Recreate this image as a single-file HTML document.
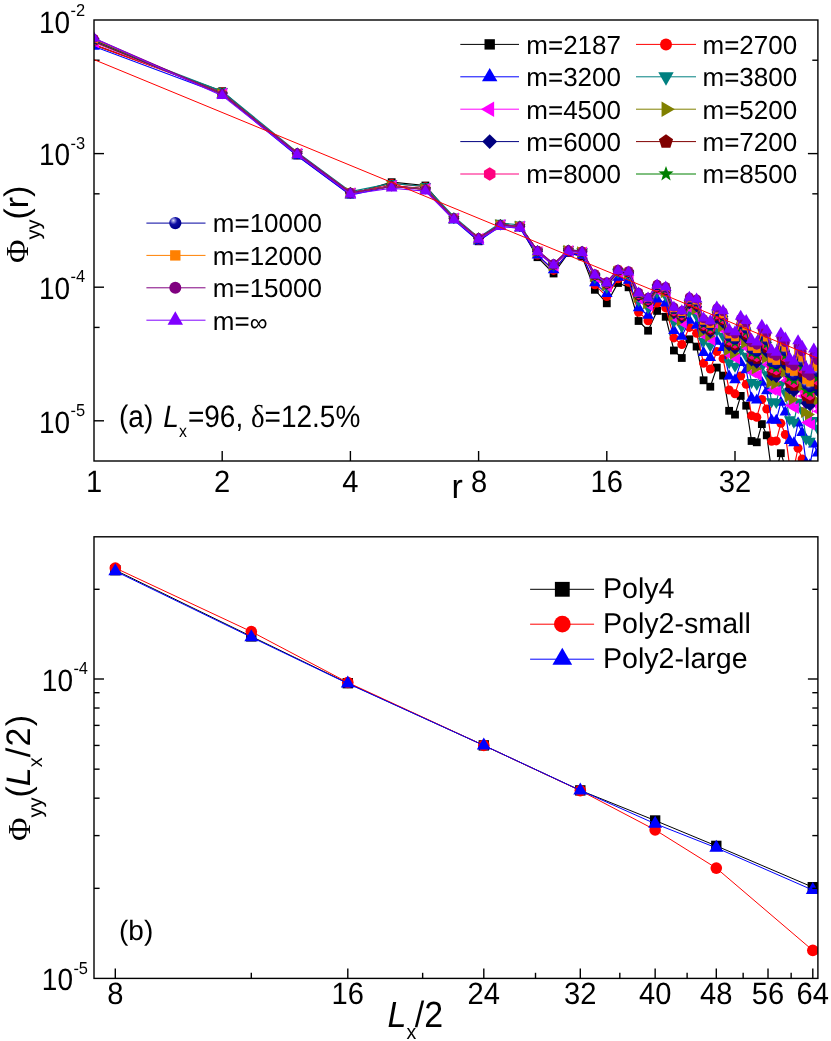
<!DOCTYPE html>
<html><head><meta charset="utf-8"><title>chart</title>
<style>html,body{margin:0;padding:0;background:#fff}svg{display:block;will-change:transform}text{font-family:"Liberation Sans", sans-serif;fill:#000;text-rendering:geometricPrecision}</style></head><body>
<svg width="831" height="1041" viewBox="0 0 831 1041">
<rect width="831" height="1041" fill="#fff"/>
<defs>
<clipPath id="ca"><rect x="94.00" y="20.00" width="723.90" height="441.00"/></clipPath>
<clipPath id="cb"><rect x="94" y="536.8" width="723.9" height="441.6"/></clipPath>
<radialGradient id="sph" cx="0.36" cy="0.32" r="0.62" fx="0.34" fy="0.28"><stop offset="0" stop-color="#e4e4f8"/><stop offset="0.16" stop-color="#9a9ae0"/><stop offset="0.5" stop-color="#1010a4"/><stop offset="1" stop-color="#00008c"/></radialGradient>
</defs>
<line x1="94.00" y1="153.60" x2="104.00" y2="153.60" stroke="#000" stroke-width="1.40"/>
<line x1="807.90" y1="153.60" x2="817.90" y2="153.60" stroke="#000" stroke-width="1.40"/>
<line x1="94.00" y1="287.20" x2="104.00" y2="287.20" stroke="#000" stroke-width="1.40"/>
<line x1="807.90" y1="287.20" x2="817.90" y2="287.20" stroke="#000" stroke-width="1.40"/>
<line x1="94.00" y1="420.80" x2="104.00" y2="420.80" stroke="#000" stroke-width="1.40"/>
<line x1="807.90" y1="420.80" x2="817.90" y2="420.80" stroke="#000" stroke-width="1.40"/>
<line x1="94.00" y1="60.22" x2="99.60" y2="60.22" stroke="#000" stroke-width="1.40"/>
<line x1="812.30" y1="60.22" x2="817.90" y2="60.22" stroke="#000" stroke-width="1.40"/>
<line x1="94.00" y1="193.82" x2="99.60" y2="193.82" stroke="#000" stroke-width="1.40"/>
<line x1="812.30" y1="193.82" x2="817.90" y2="193.82" stroke="#000" stroke-width="1.40"/>
<line x1="94.00" y1="327.42" x2="99.60" y2="327.42" stroke="#000" stroke-width="1.40"/>
<line x1="812.30" y1="327.42" x2="817.90" y2="327.42" stroke="#000" stroke-width="1.40"/>
<line x1="222.20" y1="451.00" x2="222.20" y2="461.00" stroke="#000" stroke-width="1.40"/>
<line x1="350.40" y1="451.00" x2="350.40" y2="461.00" stroke="#000" stroke-width="1.40"/>
<line x1="478.60" y1="451.00" x2="478.60" y2="461.00" stroke="#000" stroke-width="1.40"/>
<line x1="606.80" y1="451.00" x2="606.80" y2="461.00" stroke="#000" stroke-width="1.40"/>
<line x1="735.00" y1="451.00" x2="735.00" y2="461.00" stroke="#000" stroke-width="1.40"/>
<g clip-path="url(#ca)">
<polyline fill="none" stroke="#000000" stroke-width="1.15" points="94.00,44.80 222.20,91.20 297.19,155.50 350.40,194.50 391.67,182.20 425.39,185.50 453.90,218.90 478.60,241.30 500.38,224.20 519.87,227.00 537.50,257.20 553.59,273.50 568.40,253.00 582.10,256.50 594.86,289.80 606.80,303.30 618.01,283.00 628.58,287.30 638.58,321.00 648.07,330.70 657.10,310.90 665.70,316.80 673.92,350.50 681.79,358.00 689.34,339.30 696.60,346.60 703.58,380.30 710.30,386.70 716.79,367.60 723.06,375.60 729.13,410.80 735.00,414.60 740.69,395.90 746.21,405.70 751.57,441.00 756.78,442.30 761.85,424.10 766.78,435.30 771.59,471.70 776.27,470.30 780.84,453.20 785.30,466.50 789.65,501.60 793.90,503.20 798.06,483.80 802.12,496.30 806.10,533.70 809.99,535.00 813.81,514.50 817.54,526.50"/>
<rect x="90.10" y="40.90" width="7.80" height="7.80" fill="#000000"/>
<rect x="218.30" y="87.30" width="7.80" height="7.80" fill="#000000"/>
<rect x="293.29" y="151.60" width="7.80" height="7.80" fill="#000000"/>
<rect x="346.50" y="190.60" width="7.80" height="7.80" fill="#000000"/>
<rect x="387.77" y="178.30" width="7.80" height="7.80" fill="#000000"/>
<rect x="421.49" y="181.60" width="7.80" height="7.80" fill="#000000"/>
<rect x="450.00" y="215.00" width="7.80" height="7.80" fill="#000000"/>
<rect x="474.70" y="237.40" width="7.80" height="7.80" fill="#000000"/>
<rect x="496.48" y="220.30" width="7.80" height="7.80" fill="#000000"/>
<rect x="515.97" y="223.10" width="7.80" height="7.80" fill="#000000"/>
<rect x="533.60" y="253.30" width="7.80" height="7.80" fill="#000000"/>
<rect x="549.69" y="269.60" width="7.80" height="7.80" fill="#000000"/>
<rect x="564.50" y="249.10" width="7.80" height="7.80" fill="#000000"/>
<rect x="578.20" y="252.60" width="7.80" height="7.80" fill="#000000"/>
<rect x="590.96" y="285.90" width="7.80" height="7.80" fill="#000000"/>
<rect x="602.90" y="299.40" width="7.80" height="7.80" fill="#000000"/>
<rect x="614.11" y="279.10" width="7.80" height="7.80" fill="#000000"/>
<rect x="624.68" y="283.40" width="7.80" height="7.80" fill="#000000"/>
<rect x="634.68" y="317.10" width="7.80" height="7.80" fill="#000000"/>
<rect x="644.17" y="326.80" width="7.80" height="7.80" fill="#000000"/>
<rect x="653.20" y="307.00" width="7.80" height="7.80" fill="#000000"/>
<rect x="661.80" y="312.90" width="7.80" height="7.80" fill="#000000"/>
<rect x="670.02" y="346.60" width="7.80" height="7.80" fill="#000000"/>
<rect x="677.89" y="354.10" width="7.80" height="7.80" fill="#000000"/>
<rect x="685.44" y="335.40" width="7.80" height="7.80" fill="#000000"/>
<rect x="692.70" y="342.70" width="7.80" height="7.80" fill="#000000"/>
<rect x="699.68" y="376.40" width="7.80" height="7.80" fill="#000000"/>
<rect x="706.40" y="382.80" width="7.80" height="7.80" fill="#000000"/>
<rect x="712.89" y="363.70" width="7.80" height="7.80" fill="#000000"/>
<rect x="719.16" y="371.70" width="7.80" height="7.80" fill="#000000"/>
<rect x="725.23" y="406.90" width="7.80" height="7.80" fill="#000000"/>
<rect x="731.10" y="410.70" width="7.80" height="7.80" fill="#000000"/>
<rect x="736.79" y="392.00" width="7.80" height="7.80" fill="#000000"/>
<rect x="742.31" y="401.80" width="7.80" height="7.80" fill="#000000"/>
<rect x="747.67" y="437.10" width="7.80" height="7.80" fill="#000000"/>
<rect x="752.88" y="438.40" width="7.80" height="7.80" fill="#000000"/>
<rect x="757.95" y="420.20" width="7.80" height="7.80" fill="#000000"/>
<rect x="762.88" y="431.40" width="7.80" height="7.80" fill="#000000"/>
<rect x="776.94" y="449.30" width="7.80" height="7.80" fill="#000000"/>
<rect x="781.40" y="462.60" width="7.80" height="7.80" fill="#000000"/>
<polyline fill="none" stroke="#ff0000" stroke-width="1.15" points="94.00,44.80 222.20,92.06 297.19,154.73 350.40,193.89 391.67,183.55 425.39,186.73 453.90,218.65 478.60,240.22 500.38,224.45 519.87,226.75 537.50,255.05 553.59,270.43 568.40,252.08 582.10,254.81 594.86,284.79 606.80,296.57 618.01,278.75 628.58,282.23 638.58,312.26 648.07,320.70 657.10,303.02 665.70,307.91 673.92,337.94 681.79,344.47 689.34,327.38 696.60,333.34 703.58,363.35 710.30,369.03 716.79,351.59 723.06,358.69 729.13,390.05 735.00,393.84 740.69,375.95 746.21,384.37 751.57,415.66 756.78,417.26 761.85,399.43 766.78,409.03 771.59,441.32 776.27,440.90 780.84,423.31 785.30,434.52 789.65,465.93 793.90,467.90 798.06,448.25 802.12,459.03 806.10,492.37 809.99,494.04 813.81,473.42 817.54,483.70"/>
<circle cx="94.00" cy="44.80" r="4.50" fill="#ff0000"/>
<circle cx="222.20" cy="92.06" r="4.50" fill="#ff0000"/>
<circle cx="297.19" cy="154.73" r="4.50" fill="#ff0000"/>
<circle cx="350.40" cy="193.89" r="4.50" fill="#ff0000"/>
<circle cx="391.67" cy="183.55" r="4.50" fill="#ff0000"/>
<circle cx="425.39" cy="186.73" r="4.50" fill="#ff0000"/>
<circle cx="453.90" cy="218.65" r="4.50" fill="#ff0000"/>
<circle cx="478.60" cy="240.22" r="4.50" fill="#ff0000"/>
<circle cx="500.38" cy="224.45" r="4.50" fill="#ff0000"/>
<circle cx="519.87" cy="226.75" r="4.50" fill="#ff0000"/>
<circle cx="537.50" cy="255.05" r="4.50" fill="#ff0000"/>
<circle cx="553.59" cy="270.43" r="4.50" fill="#ff0000"/>
<circle cx="568.40" cy="252.08" r="4.50" fill="#ff0000"/>
<circle cx="582.10" cy="254.81" r="4.50" fill="#ff0000"/>
<circle cx="594.86" cy="284.79" r="4.50" fill="#ff0000"/>
<circle cx="606.80" cy="296.57" r="4.50" fill="#ff0000"/>
<circle cx="618.01" cy="278.75" r="4.50" fill="#ff0000"/>
<circle cx="628.58" cy="282.23" r="4.50" fill="#ff0000"/>
<circle cx="638.58" cy="312.26" r="4.50" fill="#ff0000"/>
<circle cx="648.07" cy="320.70" r="4.50" fill="#ff0000"/>
<circle cx="657.10" cy="303.02" r="4.50" fill="#ff0000"/>
<circle cx="665.70" cy="307.91" r="4.50" fill="#ff0000"/>
<circle cx="673.92" cy="337.94" r="4.50" fill="#ff0000"/>
<circle cx="681.79" cy="344.47" r="4.50" fill="#ff0000"/>
<circle cx="689.34" cy="327.38" r="4.50" fill="#ff0000"/>
<circle cx="696.60" cy="333.34" r="4.50" fill="#ff0000"/>
<circle cx="703.58" cy="363.35" r="4.50" fill="#ff0000"/>
<circle cx="710.30" cy="369.03" r="4.50" fill="#ff0000"/>
<circle cx="716.79" cy="351.59" r="4.50" fill="#ff0000"/>
<circle cx="723.06" cy="358.69" r="4.50" fill="#ff0000"/>
<circle cx="729.13" cy="390.05" r="4.50" fill="#ff0000"/>
<circle cx="735.00" cy="393.84" r="4.50" fill="#ff0000"/>
<circle cx="740.69" cy="375.95" r="4.50" fill="#ff0000"/>
<circle cx="746.21" cy="384.37" r="4.50" fill="#ff0000"/>
<circle cx="751.57" cy="415.66" r="4.50" fill="#ff0000"/>
<circle cx="756.78" cy="417.26" r="4.50" fill="#ff0000"/>
<circle cx="761.85" cy="399.43" r="4.50" fill="#ff0000"/>
<circle cx="766.78" cy="409.03" r="4.50" fill="#ff0000"/>
<circle cx="771.59" cy="441.32" r="4.50" fill="#ff0000"/>
<circle cx="776.27" cy="440.90" r="4.50" fill="#ff0000"/>
<circle cx="780.84" cy="423.31" r="4.50" fill="#ff0000"/>
<circle cx="785.30" cy="434.52" r="4.50" fill="#ff0000"/>
<circle cx="789.65" cy="465.93" r="4.50" fill="#ff0000"/>
<circle cx="793.90" cy="467.90" r="4.50" fill="#ff0000"/>
<circle cx="798.06" cy="448.25" r="4.50" fill="#ff0000"/>
<circle cx="802.12" cy="459.03" r="4.50" fill="#ff0000"/>
<polyline fill="none" stroke="#0000ff" stroke-width="1.15" points="94.00,46.47 222.20,94.32 297.19,155.87 350.40,195.13 391.67,186.15 425.39,189.24 453.90,220.15 478.60,241.15 500.38,226.28 519.87,228.25 537.50,255.23 553.59,269.97 568.40,253.11 582.10,255.31 594.86,283.00 606.80,293.59 618.01,277.46 628.58,280.36 638.58,307.80 648.07,315.31 657.10,299.09 665.70,303.24 673.92,330.59 681.79,336.38 689.34,320.41 696.60,325.34 703.58,352.60 710.30,357.68 716.79,341.40 723.06,347.77 729.13,376.20 735.00,379.89 740.69,362.61 746.21,370.00 751.57,398.27 756.78,400.09 761.85,382.54 766.78,390.94 771.59,420.14 776.27,420.46 780.84,402.50 785.30,412.14 789.65,440.77 793.90,443.02 798.06,423.19 802.12,432.67 806.10,462.96 809.99,464.91 813.81,444.19 817.54,453.17"/>
<polygon points="94.00,39.80 99.80,49.80 88.20,49.80" fill="#0000ff"/>
<polygon points="222.20,87.65 228.00,97.65 216.40,97.65" fill="#0000ff"/>
<polygon points="297.19,149.20 302.99,159.20 291.39,159.20" fill="#0000ff"/>
<polygon points="350.40,188.46 356.20,198.46 344.60,198.46" fill="#0000ff"/>
<polygon points="391.67,179.49 397.47,189.49 385.87,189.49" fill="#0000ff"/>
<polygon points="425.39,182.58 431.19,192.58 419.59,192.58" fill="#0000ff"/>
<polygon points="453.90,213.48 459.70,223.48 448.10,223.48" fill="#0000ff"/>
<polygon points="478.60,234.48 484.40,244.48 472.80,244.48" fill="#0000ff"/>
<polygon points="500.38,219.62 506.18,229.62 494.58,229.62" fill="#0000ff"/>
<polygon points="519.87,221.58 525.67,231.58 514.07,231.58" fill="#0000ff"/>
<polygon points="537.50,248.56 543.30,258.56 531.70,258.56" fill="#0000ff"/>
<polygon points="553.59,263.30 559.39,273.30 547.79,273.30" fill="#0000ff"/>
<polygon points="568.40,246.44 574.20,256.44 562.60,256.44" fill="#0000ff"/>
<polygon points="582.10,248.64 587.90,258.64 576.30,258.64" fill="#0000ff"/>
<polygon points="594.86,276.33 600.66,286.33 589.06,286.33" fill="#0000ff"/>
<polygon points="606.80,286.92 612.60,296.92 601.00,296.92" fill="#0000ff"/>
<polygon points="618.01,270.80 623.81,280.80 612.21,280.80" fill="#0000ff"/>
<polygon points="628.58,273.69 634.38,283.69 622.78,283.69" fill="#0000ff"/>
<polygon points="638.58,301.13 644.38,311.13 632.78,311.13" fill="#0000ff"/>
<polygon points="648.07,308.64 653.87,318.64 642.27,318.64" fill="#0000ff"/>
<polygon points="657.10,292.43 662.90,302.43 651.30,302.43" fill="#0000ff"/>
<polygon points="665.70,296.57 671.50,306.57 659.90,306.57" fill="#0000ff"/>
<polygon points="673.92,323.93 679.72,333.93 668.12,333.93" fill="#0000ff"/>
<polygon points="681.79,329.72 687.59,339.72 675.99,339.72" fill="#0000ff"/>
<polygon points="689.34,313.74 695.14,323.74 683.54,323.74" fill="#0000ff"/>
<polygon points="696.60,318.67 702.40,328.67 690.80,328.67" fill="#0000ff"/>
<polygon points="703.58,345.93 709.38,355.93 697.78,355.93" fill="#0000ff"/>
<polygon points="710.30,351.02 716.10,361.02 704.50,361.02" fill="#0000ff"/>
<polygon points="716.79,334.73 722.59,344.73 710.99,344.73" fill="#0000ff"/>
<polygon points="723.06,341.10 728.86,351.10 717.26,351.10" fill="#0000ff"/>
<polygon points="729.13,369.53 734.93,379.53 723.33,379.53" fill="#0000ff"/>
<polygon points="735.00,373.22 740.80,383.22 729.20,383.22" fill="#0000ff"/>
<polygon points="740.69,355.95 746.49,365.95 734.89,365.95" fill="#0000ff"/>
<polygon points="746.21,363.33 752.01,373.33 740.41,373.33" fill="#0000ff"/>
<polygon points="751.57,391.61 757.37,401.61 745.77,401.61" fill="#0000ff"/>
<polygon points="756.78,393.42 762.58,403.42 750.98,403.42" fill="#0000ff"/>
<polygon points="761.85,375.87 767.65,385.87 756.05,385.87" fill="#0000ff"/>
<polygon points="766.78,384.27 772.58,394.27 760.98,394.27" fill="#0000ff"/>
<polygon points="771.59,413.47 777.39,423.47 765.79,423.47" fill="#0000ff"/>
<polygon points="776.27,413.80 782.07,423.80 770.47,423.80" fill="#0000ff"/>
<polygon points="780.84,395.83 786.64,405.83 775.04,405.83" fill="#0000ff"/>
<polygon points="785.30,405.47 791.10,415.47 779.50,415.47" fill="#0000ff"/>
<polygon points="789.65,434.11 795.45,444.11 783.85,444.11" fill="#0000ff"/>
<polygon points="793.90,436.35 799.70,446.35 788.10,446.35" fill="#0000ff"/>
<polygon points="798.06,416.52 803.86,426.52 792.26,426.52" fill="#0000ff"/>
<polygon points="802.12,426.00 807.92,436.00 796.32,436.00" fill="#0000ff"/>
<polygon points="806.10,456.29 811.90,466.29 800.30,466.29" fill="#0000ff"/>
<polygon points="809.99,458.24 815.79,468.24 804.19,468.24" fill="#0000ff"/>
<polygon points="813.81,437.52 819.61,447.52 808.01,447.52" fill="#0000ff"/>
<polygon points="817.54,446.51 823.34,456.51 811.74,456.51" fill="#0000ff"/>
<polyline fill="none" stroke="#008080" stroke-width="1.15" points="94.00,42.00 222.20,91.35 297.19,152.21 350.40,191.53 391.67,183.39 425.39,186.43 453.90,216.71 478.60,237.36 500.38,223.05 519.87,224.81 537.50,250.98 553.59,265.33 568.40,249.38 582.10,251.26 594.86,277.54 606.80,287.40 618.01,272.31 628.58,274.83 638.58,300.64 648.07,307.55 657.10,292.24 665.70,295.89 673.92,321.53 681.79,326.82 689.34,311.52 696.60,315.77 703.58,341.21 710.30,345.87 716.79,330.30 723.06,336.15 729.13,362.60 735.00,366.18 740.69,349.30 746.21,356.00 751.57,382.27 756.78,384.24 761.85,366.87 766.78,374.47 771.59,401.61 776.27,402.43 780.84,384.22 785.30,392.81 789.65,419.60 793.90,422.03 798.06,402.08 802.12,410.70 806.10,438.96 809.99,441.09 813.81,420.32 817.54,428.44"/>
<polygon points="94.00,48.67 99.80,38.67 88.20,38.67" fill="#008080"/>
<polygon points="222.20,98.02 228.00,88.02 216.40,88.02" fill="#008080"/>
<polygon points="297.19,158.88 302.99,148.88 291.39,148.88" fill="#008080"/>
<polygon points="350.40,198.20 356.20,188.20 344.60,188.20" fill="#008080"/>
<polygon points="391.67,190.06 397.47,180.06 385.87,180.06" fill="#008080"/>
<polygon points="425.39,193.10 431.19,183.10 419.59,183.10" fill="#008080"/>
<polygon points="453.90,223.38 459.70,213.38 448.10,213.38" fill="#008080"/>
<polygon points="478.60,244.03 484.40,234.03 472.80,234.03" fill="#008080"/>
<polygon points="500.38,229.72 506.18,219.72 494.58,219.72" fill="#008080"/>
<polygon points="519.87,231.48 525.67,221.48 514.07,221.48" fill="#008080"/>
<polygon points="537.50,257.65 543.30,247.65 531.70,247.65" fill="#008080"/>
<polygon points="553.59,272.00 559.39,262.00 547.79,262.00" fill="#008080"/>
<polygon points="568.40,256.05 574.20,246.05 562.60,246.05" fill="#008080"/>
<polygon points="582.10,257.93 587.90,247.93 576.30,247.93" fill="#008080"/>
<polygon points="594.86,284.21 600.66,274.21 589.06,274.21" fill="#008080"/>
<polygon points="606.80,294.07 612.60,284.07 601.00,284.07" fill="#008080"/>
<polygon points="618.01,278.98 623.81,268.98 612.21,268.98" fill="#008080"/>
<polygon points="628.58,281.50 634.38,271.50 622.78,271.50" fill="#008080"/>
<polygon points="638.58,307.31 644.38,297.31 632.78,297.31" fill="#008080"/>
<polygon points="648.07,314.22 653.87,304.22 642.27,304.22" fill="#008080"/>
<polygon points="657.10,298.91 662.90,288.91 651.30,288.91" fill="#008080"/>
<polygon points="665.70,302.56 671.50,292.56 659.90,292.56" fill="#008080"/>
<polygon points="673.92,328.20 679.72,318.20 668.12,318.20" fill="#008080"/>
<polygon points="681.79,333.48 687.59,323.48 675.99,323.48" fill="#008080"/>
<polygon points="689.34,318.19 695.14,308.19 683.54,308.19" fill="#008080"/>
<polygon points="696.60,322.44 702.40,312.44 690.80,312.44" fill="#008080"/>
<polygon points="703.58,347.88 709.38,337.88 697.78,337.88" fill="#008080"/>
<polygon points="710.30,352.54 716.10,342.54 704.50,342.54" fill="#008080"/>
<polygon points="716.79,336.97 722.59,326.97 710.99,326.97" fill="#008080"/>
<polygon points="723.06,342.82 728.86,332.82 717.26,332.82" fill="#008080"/>
<polygon points="729.13,369.26 734.93,359.26 723.33,359.26" fill="#008080"/>
<polygon points="735.00,372.84 740.80,362.84 729.20,362.84" fill="#008080"/>
<polygon points="740.69,355.97 746.49,345.97 734.89,345.97" fill="#008080"/>
<polygon points="746.21,362.67 752.01,352.67 740.41,352.67" fill="#008080"/>
<polygon points="751.57,388.94 757.37,378.94 745.77,378.94" fill="#008080"/>
<polygon points="756.78,390.90 762.58,380.90 750.98,380.90" fill="#008080"/>
<polygon points="761.85,373.53 767.65,363.53 756.05,363.53" fill="#008080"/>
<polygon points="766.78,381.13 772.58,371.13 760.98,371.13" fill="#008080"/>
<polygon points="771.59,408.28 777.39,398.28 765.79,398.28" fill="#008080"/>
<polygon points="776.27,409.10 782.07,399.10 770.47,399.10" fill="#008080"/>
<polygon points="780.84,390.89 786.64,380.89 775.04,380.89" fill="#008080"/>
<polygon points="785.30,399.48 791.10,389.48 779.50,389.48" fill="#008080"/>
<polygon points="789.65,426.27 795.45,416.27 783.85,416.27" fill="#008080"/>
<polygon points="793.90,428.70 799.70,418.70 788.10,418.70" fill="#008080"/>
<polygon points="798.06,408.75 803.86,398.75 792.26,398.75" fill="#008080"/>
<polygon points="802.12,417.37 807.92,407.37 796.32,407.37" fill="#008080"/>
<polygon points="806.10,445.63 811.90,435.63 800.30,435.63" fill="#008080"/>
<polygon points="809.99,447.76 815.79,437.76 804.19,437.76" fill="#008080"/>
<polygon points="813.81,426.98 819.61,416.98 808.01,416.98" fill="#008080"/>
<polygon points="817.54,435.10 823.34,425.10 811.74,425.10" fill="#008080"/>
<polyline fill="none" stroke="#ff00ff" stroke-width="1.15" points="94.00,42.57 222.20,93.32 297.19,153.61 350.40,192.99 391.67,185.53 425.39,188.52 453.90,218.30 478.60,238.65 500.38,224.80 519.87,226.40 537.50,251.91 553.59,265.94 568.40,250.73 582.10,252.34 594.86,277.48 606.80,286.75 618.01,272.49 628.58,274.70 638.58,299.15 648.07,305.56 657.10,290.98 665.70,294.20 673.92,318.38 681.79,323.22 689.34,308.48 696.60,312.12 703.58,335.98 710.30,340.23 716.79,325.25 723.06,330.61 729.13,355.29 735.00,358.73 740.69,342.21 746.21,348.30 751.57,372.81 756.78,374.91 761.85,357.70 766.78,364.60 771.59,389.94 776.27,391.19 780.84,372.77 785.30,380.44 789.65,405.61 793.90,408.20 798.06,388.14 802.12,396.01 806.10,422.48 809.99,424.78 813.81,403.95 817.54,411.31"/>
<polygon points="89.00,42.57 99.00,36.77 99.00,48.37" fill="#ff00ff"/>
<polygon points="217.20,93.32 227.20,87.52 227.20,99.12" fill="#ff00ff"/>
<polygon points="292.19,153.61 302.19,147.81 302.19,159.41" fill="#ff00ff"/>
<polygon points="345.40,192.99 355.40,187.19 355.40,198.79" fill="#ff00ff"/>
<polygon points="386.67,185.53 396.67,179.73 396.67,191.33" fill="#ff00ff"/>
<polygon points="420.39,188.52 430.39,182.72 430.39,194.32" fill="#ff00ff"/>
<polygon points="448.90,218.30 458.90,212.50 458.90,224.10" fill="#ff00ff"/>
<polygon points="473.60,238.65 483.60,232.85 483.60,244.45" fill="#ff00ff"/>
<polygon points="495.38,224.80 505.38,219.00 505.38,230.60" fill="#ff00ff"/>
<polygon points="514.87,226.40 524.87,220.60 524.87,232.20" fill="#ff00ff"/>
<polygon points="532.50,251.91 542.50,246.11 542.50,257.71" fill="#ff00ff"/>
<polygon points="548.59,265.94 558.59,260.14 558.59,271.74" fill="#ff00ff"/>
<polygon points="563.40,250.73 573.40,244.93 573.40,256.53" fill="#ff00ff"/>
<polygon points="577.10,252.34 587.10,246.54 587.10,258.14" fill="#ff00ff"/>
<polygon points="589.86,277.48 599.86,271.68 599.86,283.28" fill="#ff00ff"/>
<polygon points="601.80,286.75 611.80,280.95 611.80,292.55" fill="#ff00ff"/>
<polygon points="613.01,272.49 623.01,266.69 623.01,278.29" fill="#ff00ff"/>
<polygon points="623.58,274.70 633.58,268.90 633.58,280.50" fill="#ff00ff"/>
<polygon points="633.58,299.15 643.58,293.35 643.58,304.95" fill="#ff00ff"/>
<polygon points="643.07,305.56 653.07,299.76 653.07,311.36" fill="#ff00ff"/>
<polygon points="652.10,290.98 662.10,285.18 662.10,296.78" fill="#ff00ff"/>
<polygon points="660.70,294.20 670.70,288.40 670.70,300.00" fill="#ff00ff"/>
<polygon points="668.92,318.38 678.92,312.58 678.92,324.18" fill="#ff00ff"/>
<polygon points="676.79,323.22 686.79,317.42 686.79,329.02" fill="#ff00ff"/>
<polygon points="684.34,308.48 694.34,302.68 694.34,314.28" fill="#ff00ff"/>
<polygon points="691.60,312.12 701.60,306.32 701.60,317.92" fill="#ff00ff"/>
<polygon points="698.58,335.98 708.58,330.18 708.58,341.78" fill="#ff00ff"/>
<polygon points="705.30,340.23 715.30,334.43 715.30,346.03" fill="#ff00ff"/>
<polygon points="711.79,325.25 721.79,319.45 721.79,331.05" fill="#ff00ff"/>
<polygon points="718.06,330.61 728.06,324.81 728.06,336.41" fill="#ff00ff"/>
<polygon points="724.13,355.29 734.13,349.49 734.13,361.09" fill="#ff00ff"/>
<polygon points="730.00,358.73 740.00,352.93 740.00,364.53" fill="#ff00ff"/>
<polygon points="735.69,342.21 745.69,336.41 745.69,348.01" fill="#ff00ff"/>
<polygon points="741.21,348.30 751.21,342.50 751.21,354.10" fill="#ff00ff"/>
<polygon points="746.57,372.81 756.57,367.01 756.57,378.61" fill="#ff00ff"/>
<polygon points="751.78,374.91 761.78,369.11 761.78,380.71" fill="#ff00ff"/>
<polygon points="756.85,357.70 766.85,351.90 766.85,363.50" fill="#ff00ff"/>
<polygon points="761.78,364.60 771.78,358.80 771.78,370.40" fill="#ff00ff"/>
<polygon points="766.59,389.94 776.59,384.14 776.59,395.74" fill="#ff00ff"/>
<polygon points="771.27,391.19 781.27,385.39 781.27,396.99" fill="#ff00ff"/>
<polygon points="775.84,372.77 785.84,366.97 785.84,378.57" fill="#ff00ff"/>
<polygon points="780.30,380.44 790.30,374.64 790.30,386.24" fill="#ff00ff"/>
<polygon points="784.65,405.61 794.65,399.81 794.65,411.41" fill="#ff00ff"/>
<polygon points="788.90,408.20 798.90,402.40 798.90,414.00" fill="#ff00ff"/>
<polygon points="793.06,388.14 803.06,382.34 803.06,393.94" fill="#ff00ff"/>
<polygon points="797.12,396.01 807.12,390.21 807.12,401.81" fill="#ff00ff"/>
<polygon points="801.10,422.48 811.10,416.68 811.10,428.28" fill="#ff00ff"/>
<polygon points="804.99,424.78 814.99,418.98 814.99,430.58" fill="#ff00ff"/>
<polygon points="808.81,403.95 818.81,398.15 818.81,409.75" fill="#ff00ff"/>
<polygon points="812.54,411.31 822.54,405.51 822.54,417.11" fill="#ff00ff"/>
<polyline fill="none" stroke="#808000" stroke-width="1.15" points="94.00,41.89 222.20,93.47 297.19,153.47 350.40,192.88 391.67,185.77 425.39,188.75 453.90,218.25 478.60,238.46 500.38,224.85 519.87,226.35 537.50,251.52 553.59,265.38 568.40,250.57 582.10,252.04 594.86,276.57 606.80,285.53 618.01,271.70 628.58,273.74 638.58,297.48 648.07,303.60 657.10,289.40 665.70,292.39 673.92,315.77 681.79,320.35 689.34,305.90 696.60,309.20 703.58,332.17 710.30,336.18 716.79,321.50 723.06,326.58 729.13,350.24 735.00,353.58 740.69,337.26 746.21,343.02 751.57,366.53 756.78,368.70 761.85,351.58 766.78,358.08 771.59,382.41 776.27,383.90 780.84,365.36 785.30,372.51 789.65,396.77 793.90,399.45 798.06,379.33 802.12,386.77 806.10,412.24 809.99,414.62 813.81,393.76 817.54,400.70"/>
<polygon points="99.00,41.89 89.00,36.09 89.00,47.69" fill="#808000"/>
<polygon points="227.20,93.47 217.20,87.67 217.20,99.27" fill="#808000"/>
<polygon points="302.19,153.47 292.19,147.67 292.19,159.27" fill="#808000"/>
<polygon points="355.40,192.88 345.40,187.08 345.40,198.68" fill="#808000"/>
<polygon points="396.67,185.77 386.67,179.97 386.67,191.57" fill="#808000"/>
<polygon points="430.39,188.75 420.39,182.95 420.39,194.55" fill="#808000"/>
<polygon points="458.90,218.25 448.90,212.45 448.90,224.05" fill="#808000"/>
<polygon points="483.60,238.46 473.60,232.66 473.60,244.26" fill="#808000"/>
<polygon points="505.38,224.85 495.38,219.05 495.38,230.65" fill="#808000"/>
<polygon points="524.87,226.35 514.87,220.55 514.87,232.15" fill="#808000"/>
<polygon points="542.50,251.52 532.50,245.72 532.50,257.32" fill="#808000"/>
<polygon points="558.59,265.38 548.59,259.58 548.59,271.18" fill="#808000"/>
<polygon points="573.40,250.57 563.40,244.77 563.40,256.37" fill="#808000"/>
<polygon points="587.10,252.04 577.10,246.24 577.10,257.84" fill="#808000"/>
<polygon points="599.86,276.57 589.86,270.77 589.86,282.37" fill="#808000"/>
<polygon points="611.80,285.53 601.80,279.73 601.80,291.33" fill="#808000"/>
<polygon points="623.01,271.70 613.01,265.90 613.01,277.50" fill="#808000"/>
<polygon points="633.58,273.74 623.58,267.94 623.58,279.54" fill="#808000"/>
<polygon points="643.58,297.48 633.58,291.68 633.58,303.28" fill="#808000"/>
<polygon points="653.07,303.60 643.07,297.80 643.07,309.40" fill="#808000"/>
<polygon points="662.10,289.40 652.10,283.60 652.10,295.20" fill="#808000"/>
<polygon points="670.70,292.39 660.70,286.59 660.70,298.19" fill="#808000"/>
<polygon points="678.92,315.77 668.92,309.97 668.92,321.57" fill="#808000"/>
<polygon points="686.79,320.35 676.79,314.55 676.79,326.15" fill="#808000"/>
<polygon points="694.34,305.90 684.34,300.10 684.34,311.70" fill="#808000"/>
<polygon points="701.60,309.20 691.60,303.40 691.60,315.00" fill="#808000"/>
<polygon points="708.58,332.17 698.58,326.37 698.58,337.97" fill="#808000"/>
<polygon points="715.30,336.18 705.30,330.38 705.30,341.98" fill="#808000"/>
<polygon points="721.79,321.50 711.79,315.70 711.79,327.30" fill="#808000"/>
<polygon points="728.06,326.58 718.06,320.78 718.06,332.38" fill="#808000"/>
<polygon points="734.13,350.24 724.13,344.44 724.13,356.04" fill="#808000"/>
<polygon points="740.00,353.58 730.00,347.78 730.00,359.38" fill="#808000"/>
<polygon points="745.69,337.26 735.69,331.46 735.69,343.06" fill="#808000"/>
<polygon points="751.21,343.02 741.21,337.22 741.21,348.82" fill="#808000"/>
<polygon points="756.57,366.53 746.57,360.73 746.57,372.33" fill="#808000"/>
<polygon points="761.78,368.70 751.78,362.90 751.78,374.50" fill="#808000"/>
<polygon points="766.85,351.58 756.85,345.78 756.85,357.38" fill="#808000"/>
<polygon points="771.78,358.08 761.78,352.28 761.78,363.88" fill="#808000"/>
<polygon points="776.59,382.41 766.59,376.61 766.59,388.21" fill="#808000"/>
<polygon points="781.27,383.90 771.27,378.10 771.27,389.70" fill="#808000"/>
<polygon points="785.84,365.36 775.84,359.56 775.84,371.16" fill="#808000"/>
<polygon points="790.30,372.51 780.30,366.71 780.30,378.31" fill="#808000"/>
<polygon points="794.65,396.77 784.65,390.97 784.65,402.57" fill="#808000"/>
<polygon points="798.90,399.45 788.90,393.65 788.90,405.25" fill="#808000"/>
<polygon points="803.06,379.33 793.06,373.53 793.06,385.13" fill="#808000"/>
<polygon points="807.12,386.77 797.12,380.97 797.12,392.57" fill="#808000"/>
<polygon points="811.10,412.24 801.10,406.44 801.10,418.04" fill="#808000"/>
<polygon points="814.99,414.62 804.99,408.82 804.99,420.42" fill="#808000"/>
<polygon points="818.81,393.76 808.81,387.96 808.81,399.56" fill="#808000"/>
<polygon points="822.54,400.70 812.54,394.90 812.54,406.50" fill="#808000"/>
<polyline fill="none" stroke="#000080" stroke-width="1.15" points="94.00,41.23 222.20,93.60 297.19,153.36 350.40,192.78 391.67,185.97 425.39,188.93 453.90,218.21 478.60,238.30 500.38,224.89 519.87,226.31 537.50,251.20 553.59,264.92 568.40,250.43 582.10,251.78 594.86,275.82 606.80,284.51 618.01,271.05 628.58,272.94 638.58,296.06 648.07,301.94 657.10,288.07 665.70,290.85 673.92,313.54 681.79,317.89 689.34,303.68 696.60,306.67 703.58,328.86 710.30,332.65 716.79,318.23 723.06,323.04 729.13,345.80 735.00,349.02 740.69,332.89 746.21,338.33 751.57,360.97 756.78,363.20 761.85,346.17 766.78,352.32 771.59,375.74 776.27,377.45 780.84,358.79 785.30,365.49 789.65,388.94 793.90,391.70 798.06,371.52 802.12,378.58 806.10,403.16 809.99,405.63 813.81,384.74 817.54,391.30"/>
<polygon points="94.00,35.63 99.60,41.23 94.00,46.83 88.40,41.23" fill="#000080"/>
<polygon points="222.20,88.00 227.80,93.60 222.20,99.20 216.60,93.60" fill="#000080"/>
<polygon points="297.19,147.76 302.79,153.36 297.19,158.96 291.59,153.36" fill="#000080"/>
<polygon points="350.40,187.18 356.00,192.78 350.40,198.38 344.80,192.78" fill="#000080"/>
<polygon points="391.67,180.37 397.27,185.97 391.67,191.57 386.07,185.97" fill="#000080"/>
<polygon points="425.39,183.33 430.99,188.93 425.39,194.53 419.79,188.93" fill="#000080"/>
<polygon points="453.90,212.61 459.50,218.21 453.90,223.81 448.30,218.21" fill="#000080"/>
<polygon points="478.60,232.70 484.20,238.30 478.60,243.90 473.00,238.30" fill="#000080"/>
<polygon points="500.38,219.29 505.98,224.89 500.38,230.49 494.78,224.89" fill="#000080"/>
<polygon points="519.87,220.71 525.47,226.31 519.87,231.91 514.27,226.31" fill="#000080"/>
<polygon points="537.50,245.60 543.10,251.20 537.50,256.80 531.90,251.20" fill="#000080"/>
<polygon points="553.59,259.32 559.19,264.92 553.59,270.52 547.99,264.92" fill="#000080"/>
<polygon points="568.40,244.83 574.00,250.43 568.40,256.03 562.80,250.43" fill="#000080"/>
<polygon points="582.10,246.18 587.70,251.78 582.10,257.38 576.50,251.78" fill="#000080"/>
<polygon points="594.86,270.22 600.46,275.82 594.86,281.42 589.26,275.82" fill="#000080"/>
<polygon points="606.80,278.91 612.40,284.51 606.80,290.11 601.20,284.51" fill="#000080"/>
<polygon points="618.01,265.45 623.61,271.05 618.01,276.65 612.41,271.05" fill="#000080"/>
<polygon points="628.58,267.34 634.18,272.94 628.58,278.54 622.98,272.94" fill="#000080"/>
<polygon points="638.58,290.46 644.18,296.06 638.58,301.66 632.98,296.06" fill="#000080"/>
<polygon points="648.07,296.34 653.67,301.94 648.07,307.54 642.47,301.94" fill="#000080"/>
<polygon points="657.10,282.47 662.70,288.07 657.10,293.67 651.50,288.07" fill="#000080"/>
<polygon points="665.70,285.25 671.30,290.85 665.70,296.45 660.10,290.85" fill="#000080"/>
<polygon points="673.92,307.94 679.52,313.54 673.92,319.14 668.32,313.54" fill="#000080"/>
<polygon points="681.79,312.29 687.39,317.89 681.79,323.49 676.19,317.89" fill="#000080"/>
<polygon points="689.34,298.08 694.94,303.68 689.34,309.28 683.74,303.68" fill="#000080"/>
<polygon points="696.60,301.07 702.20,306.67 696.60,312.27 691.00,306.67" fill="#000080"/>
<polygon points="703.58,323.26 709.18,328.86 703.58,334.46 697.98,328.86" fill="#000080"/>
<polygon points="710.30,327.05 715.90,332.65 710.30,338.25 704.70,332.65" fill="#000080"/>
<polygon points="716.79,312.63 722.39,318.23 716.79,323.83 711.19,318.23" fill="#000080"/>
<polygon points="723.06,317.44 728.66,323.04 723.06,328.64 717.46,323.04" fill="#000080"/>
<polygon points="729.13,340.20 734.73,345.80 729.13,351.40 723.53,345.80" fill="#000080"/>
<polygon points="735.00,343.42 740.60,349.02 735.00,354.62 729.40,349.02" fill="#000080"/>
<polygon points="740.69,327.29 746.29,332.89 740.69,338.49 735.09,332.89" fill="#000080"/>
<polygon points="746.21,332.73 751.81,338.33 746.21,343.93 740.61,338.33" fill="#000080"/>
<polygon points="751.57,355.37 757.17,360.97 751.57,366.57 745.97,360.97" fill="#000080"/>
<polygon points="756.78,357.60 762.38,363.20 756.78,368.80 751.18,363.20" fill="#000080"/>
<polygon points="761.85,340.57 767.45,346.17 761.85,351.77 756.25,346.17" fill="#000080"/>
<polygon points="766.78,346.72 772.38,352.32 766.78,357.92 761.18,352.32" fill="#000080"/>
<polygon points="771.59,370.14 777.19,375.74 771.59,381.34 765.99,375.74" fill="#000080"/>
<polygon points="776.27,371.85 781.87,377.45 776.27,383.05 770.67,377.45" fill="#000080"/>
<polygon points="780.84,353.19 786.44,358.79 780.84,364.39 775.24,358.79" fill="#000080"/>
<polygon points="785.30,359.89 790.90,365.49 785.30,371.09 779.70,365.49" fill="#000080"/>
<polygon points="789.65,383.33 795.25,388.94 789.65,394.54 784.05,388.94" fill="#000080"/>
<polygon points="793.90,386.10 799.50,391.70 793.90,397.30 788.30,391.70" fill="#000080"/>
<polygon points="798.06,365.92 803.66,371.52 798.06,377.12 792.46,371.52" fill="#000080"/>
<polygon points="802.12,372.98 807.72,378.58 802.12,384.18 796.52,378.58" fill="#000080"/>
<polygon points="806.10,397.56 811.70,403.16 806.10,408.76 800.50,403.16" fill="#000080"/>
<polygon points="809.99,400.03 815.59,405.63 809.99,411.23 804.39,405.63" fill="#000080"/>
<polygon points="813.81,379.14 819.41,384.74 813.81,390.34 808.21,384.74" fill="#000080"/>
<polygon points="817.54,385.70 823.14,391.30 817.54,396.90 811.94,391.30" fill="#000080"/>
<polyline fill="none" stroke="#800000" stroke-width="1.15" points="94.00,40.73 222.20,93.69 297.19,153.28 350.40,192.72 391.67,186.11 425.39,189.05 453.90,218.19 478.60,238.19 500.38,224.91 519.87,226.29 537.50,250.98 553.59,264.62 568.40,250.33 582.10,251.61 594.86,275.32 606.80,283.84 618.01,270.61 628.58,272.41 638.58,295.12 648.07,300.83 657.10,287.17 665.70,289.81 673.92,312.02 681.79,316.21 689.34,302.16 696.60,304.93 703.58,326.58 710.30,330.20 716.79,315.95 723.06,320.57 729.13,342.68 735.00,345.81 740.69,329.80 746.21,335.04 751.57,357.06 756.78,359.33 761.85,342.36 766.78,348.26 771.59,371.05 776.27,372.91 780.84,354.18 785.30,360.55 789.65,383.43 793.90,386.25 798.06,366.03 802.12,372.83 806.10,396.78 809.99,399.30 813.81,378.39 817.54,384.69"/>
<polygon points="94.00,35.13 99.33,39.00 97.29,45.26 90.71,45.26 88.67,39.00" fill="#800000"/>
<polygon points="222.20,88.09 227.53,91.96 225.49,98.22 218.91,98.22 216.87,91.96" fill="#800000"/>
<polygon points="297.19,147.68 302.52,151.55 300.48,157.81 293.90,157.81 291.87,151.55" fill="#800000"/>
<polygon points="350.40,187.12 355.73,190.99 353.69,197.25 347.11,197.25 345.07,190.99" fill="#800000"/>
<polygon points="391.67,180.51 397.00,184.38 394.96,190.64 388.38,190.64 386.35,184.38" fill="#800000"/>
<polygon points="425.39,183.45 430.72,187.32 428.68,193.58 422.10,193.58 420.07,187.32" fill="#800000"/>
<polygon points="453.90,212.59 459.23,216.46 457.19,222.72 450.61,222.72 448.58,216.46" fill="#800000"/>
<polygon points="478.60,232.59 483.93,236.46 481.89,242.72 475.31,242.72 473.27,236.46" fill="#800000"/>
<polygon points="500.38,219.31 505.71,223.18 503.68,229.44 497.09,229.44 495.06,223.18" fill="#800000"/>
<polygon points="519.87,220.69 525.20,224.56 523.16,230.82 516.58,230.82 514.55,224.56" fill="#800000"/>
<polygon points="537.50,245.38 542.83,249.25 540.79,255.51 534.21,255.51 532.17,249.25" fill="#800000"/>
<polygon points="553.59,259.02 558.92,262.88 556.88,269.15 550.30,269.15 548.27,262.88" fill="#800000"/>
<polygon points="568.40,244.73 573.72,248.60 571.69,254.87 565.10,254.87 563.07,248.60" fill="#800000"/>
<polygon points="582.10,246.01 587.43,249.88 585.39,256.14 578.81,256.14 576.78,249.88" fill="#800000"/>
<polygon points="594.86,269.72 600.19,273.59 598.15,279.85 591.57,279.85 589.54,273.59" fill="#800000"/>
<polygon points="606.80,278.24 612.13,282.11 610.09,288.37 603.51,288.37 601.47,282.11" fill="#800000"/>
<polygon points="618.01,265.01 623.34,268.88 621.30,275.14 614.72,275.14 612.69,268.88" fill="#800000"/>
<polygon points="628.58,266.81 633.91,270.68 631.88,276.94 625.29,276.94 623.26,270.68" fill="#800000"/>
<polygon points="638.58,289.52 643.91,293.39 641.88,299.65 635.29,299.65 633.26,293.39" fill="#800000"/>
<polygon points="648.07,295.23 653.40,299.10 651.36,305.36 644.78,305.36 642.75,299.10" fill="#800000"/>
<polygon points="657.10,281.57 662.42,285.44 660.39,291.70 653.80,291.70 651.77,285.44" fill="#800000"/>
<polygon points="665.70,284.21 671.03,288.08 668.99,294.34 662.41,294.34 660.37,288.08" fill="#800000"/>
<polygon points="673.92,306.42 679.25,310.29 677.21,316.55 670.63,316.55 668.59,310.29" fill="#800000"/>
<polygon points="681.79,310.61 687.12,314.48 685.08,320.74 678.50,320.74 676.47,314.48" fill="#800000"/>
<polygon points="689.34,296.56 694.67,300.43 692.63,306.69 686.05,306.69 684.02,300.43" fill="#800000"/>
<polygon points="696.60,299.33 701.92,303.20 699.89,309.46 693.30,309.46 691.27,303.20" fill="#800000"/>
<polygon points="703.58,320.98 708.90,324.85 706.87,331.11 700.28,331.11 698.25,324.85" fill="#800000"/>
<polygon points="710.30,324.60 715.63,328.47 713.59,334.73 707.01,334.73 704.98,328.47" fill="#800000"/>
<polygon points="716.79,310.35 722.12,314.22 720.08,320.48 713.50,320.48 711.47,314.22" fill="#800000"/>
<polygon points="723.06,314.97 728.39,318.84 726.35,325.10 719.77,325.10 717.74,318.84" fill="#800000"/>
<polygon points="729.13,337.08 734.45,340.95 732.42,347.21 725.84,347.21 723.80,340.95" fill="#800000"/>
<polygon points="735.00,340.21 740.33,344.08 738.29,350.34 731.71,350.34 729.67,344.08" fill="#800000"/>
<polygon points="740.69,324.20 746.02,328.07 743.98,334.33 737.40,334.33 735.37,328.07" fill="#800000"/>
<polygon points="746.21,329.44 751.54,333.31 749.50,339.57 742.92,339.57 740.89,333.31" fill="#800000"/>
<polygon points="751.57,351.45 756.90,355.32 754.87,361.59 748.28,361.59 746.25,355.32" fill="#800000"/>
<polygon points="756.78,353.73 762.11,357.60 760.08,363.86 753.49,363.86 751.46,357.60" fill="#800000"/>
<polygon points="761.85,336.76 767.18,340.63 765.14,346.89 758.56,346.89 756.53,340.63" fill="#800000"/>
<polygon points="766.78,342.66 772.11,346.53 770.08,352.79 763.49,352.79 761.46,346.53" fill="#800000"/>
<polygon points="771.59,365.45 776.91,369.32 774.88,375.58 768.30,375.58 766.26,369.32" fill="#800000"/>
<polygon points="776.27,367.31 781.60,371.18 779.56,377.44 772.98,377.44 770.95,371.18" fill="#800000"/>
<polygon points="780.84,348.58 786.16,352.45 784.13,358.71 777.55,358.71 775.51,352.45" fill="#800000"/>
<polygon points="785.30,354.95 790.62,358.82 788.59,365.08 782.00,365.08 779.97,358.82" fill="#800000"/>
<polygon points="789.65,377.82 794.97,381.69 792.94,387.96 786.36,387.96 784.32,381.69" fill="#800000"/>
<polygon points="793.90,380.65 799.23,384.52 797.19,390.78 790.61,390.78 788.57,384.52" fill="#800000"/>
<polygon points="798.06,360.43 803.38,364.30 801.35,370.56 794.76,370.56 792.73,364.30" fill="#800000"/>
<polygon points="802.12,367.23 807.45,371.10 805.41,377.36 798.83,377.36 796.79,371.10" fill="#800000"/>
<polygon points="806.10,391.18 811.42,395.05 809.39,401.31 802.81,401.31 800.77,395.05" fill="#800000"/>
<polygon points="809.99,393.70 815.32,397.57 813.28,403.83 806.70,403.83 804.67,397.57" fill="#800000"/>
<polygon points="813.81,372.79 819.13,376.66 817.10,382.93 810.51,382.93 808.48,376.66" fill="#800000"/>
<polygon points="817.54,379.09 822.87,382.96 820.83,389.22 814.25,389.22 812.22,382.96" fill="#800000"/>
<polyline fill="none" stroke="#ff0080" stroke-width="1.15" points="94.00,40.41 222.20,93.74 297.19,153.23 350.40,192.69 391.67,186.19 425.39,189.12 453.90,218.18 478.60,238.13 500.38,224.92 519.87,226.28 537.50,250.86 553.59,264.44 568.40,250.28 582.10,251.52 594.86,275.03 606.80,283.46 618.01,270.36 628.58,272.10 638.58,294.57 648.07,300.18 657.10,286.64 665.70,289.19 673.92,311.13 681.79,315.22 689.34,301.26 696.60,303.89 703.58,325.21 710.30,328.74 716.79,314.58 723.06,319.08 729.13,340.79 735.00,343.87 740.69,327.94 746.21,333.05 751.57,354.69 756.78,356.99 761.85,340.05 766.78,345.80 771.59,368.21 776.27,370.16 780.84,351.38 785.30,357.56 789.65,380.09 793.90,382.95 798.06,362.71 802.12,369.34 806.10,392.92 809.99,395.47 813.81,374.55 817.54,380.69"/>
<polygon points="94.00,35.41 98.33,37.91 98.33,42.91 94.00,45.41 89.67,42.91 89.67,37.91" fill="#ff0080"/>
<polygon points="222.20,88.74 226.53,91.24 226.53,96.24 222.20,98.74 217.87,96.24 217.87,91.24" fill="#ff0080"/>
<polygon points="297.19,148.23 301.52,150.73 301.52,155.73 297.19,158.23 292.86,155.73 292.86,150.73" fill="#ff0080"/>
<polygon points="350.40,187.69 354.73,190.19 354.73,195.19 350.40,197.69 346.07,195.19 346.07,190.19" fill="#ff0080"/>
<polygon points="391.67,181.19 396.00,183.69 396.00,188.69 391.67,191.19 387.34,188.69 387.34,183.69" fill="#ff0080"/>
<polygon points="425.39,184.12 429.72,186.62 429.72,191.62 425.39,194.12 421.06,191.62 421.06,186.62" fill="#ff0080"/>
<polygon points="453.90,213.18 458.23,215.68 458.23,220.68 453.90,223.18 449.57,220.68 449.57,215.68" fill="#ff0080"/>
<polygon points="478.60,233.13 482.93,235.63 482.93,240.63 478.60,243.13 474.27,240.63 474.27,235.63" fill="#ff0080"/>
<polygon points="500.38,219.92 504.71,222.42 504.71,227.42 500.38,229.92 496.05,227.42 496.05,222.42" fill="#ff0080"/>
<polygon points="519.87,221.28 524.20,223.78 524.20,228.78 519.87,231.28 515.54,228.78 515.54,223.78" fill="#ff0080"/>
<polygon points="537.50,245.86 541.83,248.36 541.83,253.36 537.50,255.86 533.17,253.36 533.17,248.36" fill="#ff0080"/>
<polygon points="553.59,259.44 557.92,261.94 557.92,266.94 553.59,269.44 549.26,266.94 549.26,261.94" fill="#ff0080"/>
<polygon points="568.40,245.28 572.73,247.78 572.73,252.78 568.40,255.28 564.07,252.78 564.07,247.78" fill="#ff0080"/>
<polygon points="582.10,246.52 586.43,249.02 586.43,254.02 582.10,256.52 577.77,254.02 577.77,249.02" fill="#ff0080"/>
<polygon points="594.86,270.03 599.19,272.53 599.19,277.53 594.86,280.03 590.53,277.53 590.53,272.53" fill="#ff0080"/>
<polygon points="606.80,278.46 611.13,280.96 611.13,285.96 606.80,288.46 602.47,285.96 602.47,280.96" fill="#ff0080"/>
<polygon points="618.01,265.36 622.34,267.86 622.34,272.86 618.01,275.36 613.68,272.86 613.68,267.86" fill="#ff0080"/>
<polygon points="628.58,267.10 632.91,269.60 632.91,274.60 628.58,277.10 624.25,274.60 624.25,269.60" fill="#ff0080"/>
<polygon points="638.58,289.57 642.91,292.07 642.91,297.07 638.58,299.57 634.25,297.07 634.25,292.07" fill="#ff0080"/>
<polygon points="648.07,295.18 652.40,297.68 652.40,302.68 648.07,305.18 643.74,302.68 643.74,297.68" fill="#ff0080"/>
<polygon points="657.10,281.64 661.43,284.14 661.43,289.14 657.10,291.64 652.76,289.14 652.76,284.14" fill="#ff0080"/>
<polygon points="665.70,284.19 670.03,286.69 670.03,291.69 665.70,294.19 661.37,291.69 661.37,286.69" fill="#ff0080"/>
<polygon points="673.92,306.13 678.25,308.63 678.25,313.63 673.92,316.13 669.59,313.63 669.59,308.63" fill="#ff0080"/>
<polygon points="681.79,310.22 686.12,312.72 686.12,317.72 681.79,320.22 677.46,317.72 677.46,312.72" fill="#ff0080"/>
<polygon points="689.34,296.26 693.67,298.76 693.67,303.76 689.34,306.26 685.01,303.76 685.01,298.76" fill="#ff0080"/>
<polygon points="696.60,298.89 700.93,301.39 700.93,306.39 696.60,308.89 692.27,306.39 692.27,301.39" fill="#ff0080"/>
<polygon points="703.58,320.21 707.91,322.71 707.91,327.71 703.58,330.21 699.25,327.71 699.25,322.71" fill="#ff0080"/>
<polygon points="710.30,323.74 714.63,326.24 714.63,331.24 710.30,333.74 705.97,331.24 705.97,326.24" fill="#ff0080"/>
<polygon points="716.79,309.58 721.12,312.08 721.12,317.08 716.79,319.58 712.46,317.08 712.46,312.08" fill="#ff0080"/>
<polygon points="723.06,314.08 727.39,316.58 727.39,321.58 723.06,324.08 718.73,321.58 718.73,316.58" fill="#ff0080"/>
<polygon points="729.13,335.79 733.46,338.29 733.46,343.29 729.13,345.79 724.80,343.29 724.80,338.29" fill="#ff0080"/>
<polygon points="735.00,338.87 739.33,341.37 739.33,346.37 735.00,348.87 730.67,346.37 730.67,341.37" fill="#ff0080"/>
<polygon points="740.69,322.94 745.02,325.44 745.02,330.44 740.69,332.94 736.36,330.44 736.36,325.44" fill="#ff0080"/>
<polygon points="746.21,328.05 750.54,330.55 750.54,335.55 746.21,338.05 741.88,335.55 741.88,330.55" fill="#ff0080"/>
<polygon points="751.57,349.69 755.90,352.19 755.90,357.19 751.57,359.69 747.24,357.19 747.24,352.19" fill="#ff0080"/>
<polygon points="756.78,351.99 761.11,354.49 761.11,359.49 756.78,361.99 752.45,359.49 752.45,354.49" fill="#ff0080"/>
<polygon points="761.85,335.05 766.18,337.55 766.18,342.55 761.85,345.05 757.52,342.55 757.52,337.55" fill="#ff0080"/>
<polygon points="766.78,340.80 771.11,343.30 771.11,348.30 766.78,350.80 762.45,348.30 762.45,343.30" fill="#ff0080"/>
<polygon points="771.59,363.21 775.92,365.71 775.92,370.71 771.59,373.21 767.26,370.71 767.26,365.71" fill="#ff0080"/>
<polygon points="776.27,365.16 780.60,367.66 780.60,372.66 776.27,375.16 771.94,372.66 771.94,367.66" fill="#ff0080"/>
<polygon points="780.84,346.38 785.17,348.88 785.17,353.88 780.84,356.38 776.51,353.88 776.51,348.88" fill="#ff0080"/>
<polygon points="785.30,352.56 789.63,355.06 789.63,360.06 785.30,362.56 780.96,360.06 780.96,355.06" fill="#ff0080"/>
<polygon points="789.65,375.09 793.98,377.59 793.98,382.59 789.65,385.09 785.32,382.59 785.32,377.59" fill="#ff0080"/>
<polygon points="793.90,377.95 798.23,380.45 798.23,385.45 793.90,387.95 789.57,385.45 789.57,380.45" fill="#ff0080"/>
<polygon points="798.06,357.71 802.39,360.21 802.39,365.21 798.06,367.71 793.73,365.21 793.73,360.21" fill="#ff0080"/>
<polygon points="802.12,364.34 806.45,366.84 806.45,371.84 802.12,374.34 797.79,371.84 797.79,366.84" fill="#ff0080"/>
<polygon points="806.10,387.92 810.43,390.42 810.43,395.42 806.10,397.92 801.77,395.42 801.77,390.42" fill="#ff0080"/>
<polygon points="809.99,390.47 814.32,392.97 814.32,397.97 809.99,400.47 805.66,397.97 805.66,392.97" fill="#ff0080"/>
<polygon points="813.81,369.55 818.14,372.05 818.14,377.05 813.81,379.55 809.48,377.05 809.48,372.05" fill="#ff0080"/>
<polygon points="817.54,375.69 821.87,378.19 821.87,383.19 817.54,385.69 813.21,383.19 813.21,378.19" fill="#ff0080"/>
<polyline fill="none" stroke="#008000" stroke-width="1.15" points="94.00,40.17 222.20,93.77 297.19,153.20 350.40,192.66 391.67,186.24 425.39,189.17 453.90,218.17 478.60,238.09 500.38,224.93 519.87,226.27 537.50,250.77 553.59,264.32 568.40,250.25 582.10,251.45 594.86,274.84 606.80,283.20 618.01,270.19 628.58,271.89 638.58,294.19 648.07,299.74 657.10,286.28 665.70,288.78 673.92,310.52 681.79,314.54 689.34,300.64 696.60,303.19 703.58,324.28 710.30,327.73 716.79,313.64 723.06,318.05 729.13,339.49 735.00,342.52 740.69,326.64 746.21,331.66 751.57,353.04 756.78,355.36 761.85,338.44 766.78,344.09 771.59,366.23 776.27,368.25 780.84,349.44 785.30,355.48 789.65,377.77 793.90,380.65 798.06,360.40 802.12,366.92 806.10,390.23 809.99,392.81 813.81,371.88 817.54,377.90"/>
<polygon points="94.00,34.17 95.44,38.19 99.71,38.32 96.33,40.93 97.53,45.02 94.00,42.62 90.47,45.02 91.67,40.93 88.29,38.32 92.56,38.19" fill="#008000"/>
<polygon points="222.20,87.77 223.64,91.79 227.91,91.92 224.53,94.53 225.73,98.62 222.20,96.22 218.67,98.62 219.87,94.53 216.49,91.92 220.76,91.79" fill="#008000"/>
<polygon points="297.19,147.20 298.63,151.22 302.90,151.35 299.52,153.96 300.72,158.06 297.19,155.65 293.67,158.06 294.86,153.96 291.49,151.35 295.75,151.22" fill="#008000"/>
<polygon points="350.40,186.66 351.84,190.68 356.11,190.81 352.73,193.42 353.93,197.52 350.40,195.11 346.87,197.52 348.07,193.42 344.69,190.81 348.96,190.68" fill="#008000"/>
<polygon points="391.67,180.24 393.11,184.26 397.38,184.39 394.00,187.00 395.20,191.09 391.67,188.69 388.14,191.09 389.34,187.00 385.96,184.39 390.23,184.26" fill="#008000"/>
<polygon points="425.39,183.17 426.83,187.19 431.10,187.32 427.72,189.93 428.92,194.03 425.39,191.62 421.87,194.03 423.06,189.93 419.69,187.32 423.95,187.19" fill="#008000"/>
<polygon points="453.90,212.17 455.34,216.18 459.61,216.31 456.23,218.92 457.43,223.02 453.90,220.62 450.38,223.02 451.57,218.92 448.20,216.31 452.46,216.18" fill="#008000"/>
<polygon points="478.60,232.09 480.04,236.10 484.31,236.23 480.93,238.84 482.13,242.94 478.60,240.54 475.07,242.94 476.27,238.84 472.89,236.23 477.16,236.10" fill="#008000"/>
<polygon points="500.38,218.93 501.82,222.95 506.09,223.08 502.71,225.69 503.91,229.79 500.38,227.38 496.86,229.79 498.05,225.69 494.68,223.08 498.94,222.95" fill="#008000"/>
<polygon points="519.87,220.27 521.31,224.28 525.58,224.41 522.20,227.02 523.40,231.12 519.87,228.72 516.34,231.12 517.54,227.02 514.16,224.41 518.43,224.28" fill="#008000"/>
<polygon points="537.50,244.77 538.94,248.79 543.21,248.92 539.83,251.53 541.03,255.63 537.50,253.22 533.97,255.63 535.17,251.53 531.79,248.92 536.06,248.79" fill="#008000"/>
<polygon points="553.59,258.32 555.03,262.34 559.30,262.47 555.92,265.08 557.12,269.17 553.59,266.77 550.07,269.17 551.26,265.08 547.89,262.47 552.15,262.34" fill="#008000"/>
<polygon points="568.40,244.25 569.84,248.26 574.10,248.39 570.73,251.00 571.92,255.10 568.40,252.70 564.87,255.10 566.07,251.00 562.69,248.39 566.96,248.26" fill="#008000"/>
<polygon points="582.10,245.45 583.54,249.47 587.81,249.60 584.43,252.21 585.63,256.30 582.10,253.90 578.58,256.30 579.77,252.21 576.40,249.60 580.66,249.47" fill="#008000"/>
<polygon points="594.86,268.84 596.30,272.85 600.57,272.98 597.19,275.59 598.39,279.69 594.86,277.29 591.34,279.69 592.53,275.59 589.16,272.98 593.42,272.85" fill="#008000"/>
<polygon points="606.80,277.20 608.24,281.21 612.51,281.34 609.13,283.95 610.33,288.05 606.80,285.65 603.27,288.05 604.47,283.95 601.09,281.34 605.36,281.21" fill="#008000"/>
<polygon points="618.01,264.19 619.45,268.21 623.72,268.34 620.34,270.95 621.54,275.04 618.01,272.64 614.49,275.04 615.68,270.95 612.31,268.34 616.57,268.21" fill="#008000"/>
<polygon points="628.58,265.89 630.02,269.91 634.29,270.03 630.91,272.65 632.11,276.74 628.58,274.34 625.06,276.74 626.25,272.65 622.88,270.03 627.14,269.91" fill="#008000"/>
<polygon points="638.58,288.19 640.02,292.21 644.29,292.34 640.91,294.95 642.11,299.05 638.58,296.64 635.06,299.05 636.25,294.95 632.88,292.34 637.14,292.21" fill="#008000"/>
<polygon points="648.07,293.74 649.51,297.76 653.78,297.88 650.40,300.50 651.60,304.59 648.07,302.19 644.54,304.59 645.74,300.50 642.36,297.88 646.63,297.76" fill="#008000"/>
<polygon points="657.10,280.28 658.54,284.30 662.80,284.43 659.43,287.04 660.62,291.13 657.10,288.73 653.57,291.13 654.77,287.04 651.39,284.43 655.66,284.30" fill="#008000"/>
<polygon points="665.70,282.78 667.14,286.79 671.41,286.92 668.03,289.53 669.23,293.63 665.70,291.23 662.17,293.63 663.37,289.53 659.99,286.92 664.26,286.79" fill="#008000"/>
<polygon points="673.92,304.52 675.36,308.53 679.63,308.66 676.25,311.27 677.45,315.37 673.92,312.97 670.39,315.37 671.59,311.27 668.21,308.66 672.48,308.53" fill="#008000"/>
<polygon points="681.79,308.54 683.23,312.56 687.50,312.68 684.12,315.30 685.32,319.39 681.79,316.99 678.27,319.39 679.46,315.30 676.09,312.68 680.35,312.56" fill="#008000"/>
<polygon points="689.34,294.64 690.78,298.66 695.05,298.79 691.67,301.40 692.87,305.50 689.34,303.09 685.82,305.50 687.01,301.40 683.64,298.79 687.90,298.66" fill="#008000"/>
<polygon points="696.60,297.19 698.04,301.20 702.30,301.33 698.93,303.94 700.12,308.04 696.60,305.64 693.07,308.04 694.27,303.94 690.89,301.33 695.16,301.20" fill="#008000"/>
<polygon points="703.58,318.28 705.02,322.30 709.28,322.42 705.91,325.03 707.10,329.13 703.58,326.73 700.05,329.13 701.25,325.03 697.87,322.42 702.14,322.30" fill="#008000"/>
<polygon points="710.30,321.73 711.74,325.75 716.01,325.88 712.63,328.49 713.83,332.58 710.30,330.18 706.78,332.58 707.97,328.49 704.60,325.88 708.86,325.75" fill="#008000"/>
<polygon points="716.79,307.64 718.23,311.65 722.50,311.78 719.12,314.39 720.32,318.49 716.79,316.09 713.27,318.49 714.46,314.39 711.09,311.78 715.35,311.65" fill="#008000"/>
<polygon points="723.06,312.05 724.50,316.06 728.77,316.19 725.39,318.80 726.59,322.90 723.06,320.50 719.54,322.90 720.73,318.80 717.36,316.19 721.62,316.06" fill="#008000"/>
<polygon points="729.13,333.49 730.57,337.51 734.83,337.63 731.46,340.25 732.65,344.34 729.13,341.94 725.60,344.34 726.80,340.25 723.42,337.63 727.69,337.51" fill="#008000"/>
<polygon points="735.00,336.52 736.44,340.54 740.71,340.67 737.33,343.28 738.53,347.38 735.00,344.97 731.47,347.38 732.67,343.28 729.29,340.67 733.56,340.54" fill="#008000"/>
<polygon points="740.69,320.64 742.13,324.66 746.40,324.79 743.02,327.40 744.22,331.49 740.69,329.09 737.16,331.49 738.36,327.40 734.98,324.79 739.25,324.66" fill="#008000"/>
<polygon points="746.21,325.66 747.65,329.68 751.92,329.80 748.54,332.42 749.74,336.51 746.21,334.11 742.69,336.51 743.88,332.42 740.51,329.80 744.77,329.68" fill="#008000"/>
<polygon points="751.57,347.04 753.01,351.06 757.28,351.18 753.90,353.80 755.10,357.89 751.57,355.49 748.05,357.89 749.24,353.80 745.87,351.18 750.13,351.06" fill="#008000"/>
<polygon points="756.78,349.36 758.22,353.38 762.49,353.51 759.11,356.12 760.31,360.22 756.78,357.81 753.26,360.22 754.45,356.12 751.08,353.51 755.34,353.38" fill="#008000"/>
<polygon points="761.85,332.44 763.29,336.46 767.56,336.59 764.18,339.20 765.38,343.30 761.85,340.89 758.33,343.30 759.52,339.20 756.15,336.59 760.41,336.46" fill="#008000"/>
<polygon points="766.78,338.09 768.22,342.11 772.49,342.24 769.11,344.85 770.31,348.95 766.78,346.54 763.26,348.95 764.45,344.85 761.08,342.24 765.34,342.11" fill="#008000"/>
<polygon points="771.59,360.23 773.03,364.25 777.29,364.38 773.92,366.99 775.12,371.09 771.59,368.68 768.06,371.09 769.26,366.99 765.88,364.38 770.15,364.25" fill="#008000"/>
<polygon points="776.27,362.25 777.71,366.26 781.98,366.39 778.60,369.00 779.80,373.10 776.27,370.70 772.74,373.10 773.94,369.00 770.56,366.39 774.83,366.26" fill="#008000"/>
<polygon points="780.84,343.44 782.28,347.46 786.54,347.58 783.17,350.20 784.36,354.29 780.84,351.89 777.31,354.29 778.51,350.20 775.13,347.58 779.40,347.46" fill="#008000"/>
<polygon points="785.30,349.48 786.74,353.50 791.00,353.63 787.63,356.24 788.82,360.33 785.30,357.93 781.77,360.33 782.97,356.24 779.59,353.63 783.86,353.50" fill="#008000"/>
<polygon points="789.65,371.77 791.09,375.79 795.35,375.92 791.98,378.53 793.17,382.62 789.65,380.22 786.12,382.62 787.32,378.53 783.94,375.92 788.21,375.79" fill="#008000"/>
<polygon points="793.90,374.65 795.34,378.67 799.61,378.80 796.23,381.41 797.43,385.51 793.90,383.10 790.37,385.51 791.57,381.41 788.19,378.80 792.46,378.67" fill="#008000"/>
<polygon points="798.06,354.40 799.50,358.41 803.76,358.54 800.39,361.15 801.58,365.25 798.06,362.85 794.53,365.25 795.73,361.15 792.35,358.54 796.62,358.41" fill="#008000"/>
<polygon points="802.12,360.92 803.56,364.94 807.83,365.06 804.45,367.68 805.65,371.77 802.12,369.37 798.59,371.77 799.79,367.68 796.41,365.06 800.68,364.94" fill="#008000"/>
<polygon points="806.10,384.23 807.54,388.25 811.80,388.37 808.43,390.99 809.63,395.08 806.10,392.68 802.57,395.08 803.77,390.99 800.39,388.37 804.66,388.25" fill="#008000"/>
<polygon points="809.99,386.81 811.43,390.83 815.70,390.95 812.32,393.57 813.52,397.66 809.99,395.26 806.47,397.66 807.66,393.57 804.29,390.95 808.55,390.83" fill="#008000"/>
<polygon points="813.81,365.88 815.25,369.90 819.51,370.03 816.14,372.64 817.33,376.74 813.81,374.33 810.28,376.74 811.48,372.64 808.10,370.03 812.37,369.90" fill="#008000"/>
<polygon points="817.54,371.90 818.98,375.92 823.25,376.05 819.87,378.66 821.07,382.76 817.54,380.35 814.02,382.76 815.21,378.66 811.84,376.05 816.10,375.92" fill="#008000"/>
<polyline fill="none" stroke="#0000a0" stroke-width="1.15" points="94.00,39.68 222.20,93.83 297.19,153.15 350.40,192.62 391.67,186.34 425.39,189.26 453.90,218.15 478.60,238.01 500.38,224.95 519.87,226.25 537.50,250.62 553.59,264.10 568.40,250.18 582.10,251.33 594.86,274.48 606.80,282.72 618.01,269.88 628.58,271.50 638.58,293.50 648.07,298.92 657.10,285.61 665.70,287.99 673.92,309.37 681.79,313.26 689.34,299.47 696.60,301.84 703.58,322.49 710.30,325.80 716.79,311.82 723.06,316.06 729.13,336.97 735.00,339.91 740.69,324.13 746.21,328.97 751.57,349.85 756.78,352.21 761.85,335.33 766.78,340.78 771.59,362.40 776.27,364.54 780.84,345.67 785.30,351.45 789.65,373.28 793.90,376.20 798.06,355.92 802.12,362.22 806.10,385.02 809.99,387.65 813.81,366.70 817.54,372.51"/>
<circle cx="94.00" cy="39.68" r="4.60" fill="url(#sph)"/>
<circle cx="222.20" cy="93.83" r="4.60" fill="url(#sph)"/>
<circle cx="297.19" cy="153.15" r="4.60" fill="url(#sph)"/>
<circle cx="350.40" cy="192.62" r="4.60" fill="url(#sph)"/>
<circle cx="391.67" cy="186.34" r="4.60" fill="url(#sph)"/>
<circle cx="425.39" cy="189.26" r="4.60" fill="url(#sph)"/>
<circle cx="453.90" cy="218.15" r="4.60" fill="url(#sph)"/>
<circle cx="478.60" cy="238.01" r="4.60" fill="url(#sph)"/>
<circle cx="500.38" cy="224.95" r="4.60" fill="url(#sph)"/>
<circle cx="519.87" cy="226.25" r="4.60" fill="url(#sph)"/>
<circle cx="537.50" cy="250.62" r="4.60" fill="url(#sph)"/>
<circle cx="553.59" cy="264.10" r="4.60" fill="url(#sph)"/>
<circle cx="568.40" cy="250.18" r="4.60" fill="url(#sph)"/>
<circle cx="582.10" cy="251.33" r="4.60" fill="url(#sph)"/>
<circle cx="594.86" cy="274.48" r="4.60" fill="url(#sph)"/>
<circle cx="606.80" cy="282.72" r="4.60" fill="url(#sph)"/>
<circle cx="618.01" cy="269.88" r="4.60" fill="url(#sph)"/>
<circle cx="628.58" cy="271.50" r="4.60" fill="url(#sph)"/>
<circle cx="638.58" cy="293.50" r="4.60" fill="url(#sph)"/>
<circle cx="648.07" cy="298.92" r="4.60" fill="url(#sph)"/>
<circle cx="657.10" cy="285.61" r="4.60" fill="url(#sph)"/>
<circle cx="665.70" cy="287.99" r="4.60" fill="url(#sph)"/>
<circle cx="673.92" cy="309.37" r="4.60" fill="url(#sph)"/>
<circle cx="681.79" cy="313.26" r="4.60" fill="url(#sph)"/>
<circle cx="689.34" cy="299.47" r="4.60" fill="url(#sph)"/>
<circle cx="696.60" cy="301.84" r="4.60" fill="url(#sph)"/>
<circle cx="703.58" cy="322.49" r="4.60" fill="url(#sph)"/>
<circle cx="710.30" cy="325.80" r="4.60" fill="url(#sph)"/>
<circle cx="716.79" cy="311.82" r="4.60" fill="url(#sph)"/>
<circle cx="723.06" cy="316.06" r="4.60" fill="url(#sph)"/>
<circle cx="729.13" cy="336.97" r="4.60" fill="url(#sph)"/>
<circle cx="735.00" cy="339.91" r="4.60" fill="url(#sph)"/>
<circle cx="740.69" cy="324.13" r="4.60" fill="url(#sph)"/>
<circle cx="746.21" cy="328.97" r="4.60" fill="url(#sph)"/>
<circle cx="751.57" cy="349.85" r="4.60" fill="url(#sph)"/>
<circle cx="756.78" cy="352.21" r="4.60" fill="url(#sph)"/>
<circle cx="761.85" cy="335.33" r="4.60" fill="url(#sph)"/>
<circle cx="766.78" cy="340.78" r="4.60" fill="url(#sph)"/>
<circle cx="771.59" cy="362.40" r="4.60" fill="url(#sph)"/>
<circle cx="776.27" cy="364.54" r="4.60" fill="url(#sph)"/>
<circle cx="780.84" cy="345.67" r="4.60" fill="url(#sph)"/>
<circle cx="785.30" cy="351.45" r="4.60" fill="url(#sph)"/>
<circle cx="789.65" cy="373.28" r="4.60" fill="url(#sph)"/>
<circle cx="793.90" cy="376.20" r="4.60" fill="url(#sph)"/>
<circle cx="798.06" cy="355.92" r="4.60" fill="url(#sph)"/>
<circle cx="802.12" cy="362.22" r="4.60" fill="url(#sph)"/>
<circle cx="806.10" cy="385.02" r="4.60" fill="url(#sph)"/>
<circle cx="809.99" cy="387.65" r="4.60" fill="url(#sph)"/>
<circle cx="813.81" cy="366.70" r="4.60" fill="url(#sph)"/>
<circle cx="817.54" cy="372.51" r="4.60" fill="url(#sph)"/>
<polyline fill="none" stroke="#ff8000" stroke-width="1.15" points="94.00,39.15 222.20,93.89 297.19,153.10 350.40,192.58 391.67,186.42 425.39,189.34 453.90,218.13 478.60,237.94 500.38,224.97 519.87,226.23 537.50,250.48 553.59,263.91 568.40,250.12 582.10,251.22 594.86,274.16 606.80,282.29 618.01,269.59 628.58,271.15 638.58,292.87 648.07,298.17 657.10,285.00 665.70,287.27 673.92,308.31 681.79,312.07 689.34,298.38 696.60,300.57 703.58,320.80 710.30,323.97 716.79,310.10 723.06,314.16 729.13,334.54 735.00,337.37 740.69,321.69 746.21,326.37 751.57,346.75 756.78,349.15 761.85,332.33 766.78,337.58 771.59,358.70 776.27,360.96 780.84,342.03 785.30,347.55 789.65,368.93 793.90,371.90 798.06,351.58 802.12,357.68 806.10,379.98 809.99,382.65 813.81,361.69 817.54,367.29"/>
<rect x="90.10" y="35.25" width="7.80" height="7.80" fill="#ff8000"/>
<rect x="218.30" y="89.99" width="7.80" height="7.80" fill="#ff8000"/>
<rect x="293.29" y="149.20" width="7.80" height="7.80" fill="#ff8000"/>
<rect x="346.50" y="188.68" width="7.80" height="7.80" fill="#ff8000"/>
<rect x="387.77" y="182.52" width="7.80" height="7.80" fill="#ff8000"/>
<rect x="421.49" y="185.44" width="7.80" height="7.80" fill="#ff8000"/>
<rect x="450.00" y="214.23" width="7.80" height="7.80" fill="#ff8000"/>
<rect x="474.70" y="234.04" width="7.80" height="7.80" fill="#ff8000"/>
<rect x="496.48" y="221.07" width="7.80" height="7.80" fill="#ff8000"/>
<rect x="515.97" y="222.33" width="7.80" height="7.80" fill="#ff8000"/>
<rect x="533.60" y="246.58" width="7.80" height="7.80" fill="#ff8000"/>
<rect x="549.69" y="260.01" width="7.80" height="7.80" fill="#ff8000"/>
<rect x="564.50" y="246.22" width="7.80" height="7.80" fill="#ff8000"/>
<rect x="578.20" y="247.32" width="7.80" height="7.80" fill="#ff8000"/>
<rect x="590.96" y="270.26" width="7.80" height="7.80" fill="#ff8000"/>
<rect x="602.90" y="278.39" width="7.80" height="7.80" fill="#ff8000"/>
<rect x="614.11" y="265.69" width="7.80" height="7.80" fill="#ff8000"/>
<rect x="624.68" y="267.25" width="7.80" height="7.80" fill="#ff8000"/>
<rect x="634.68" y="288.97" width="7.80" height="7.80" fill="#ff8000"/>
<rect x="644.17" y="294.27" width="7.80" height="7.80" fill="#ff8000"/>
<rect x="653.20" y="281.10" width="7.80" height="7.80" fill="#ff8000"/>
<rect x="661.80" y="283.37" width="7.80" height="7.80" fill="#ff8000"/>
<rect x="670.02" y="304.41" width="7.80" height="7.80" fill="#ff8000"/>
<rect x="677.89" y="308.17" width="7.80" height="7.80" fill="#ff8000"/>
<rect x="685.44" y="294.48" width="7.80" height="7.80" fill="#ff8000"/>
<rect x="692.70" y="296.67" width="7.80" height="7.80" fill="#ff8000"/>
<rect x="699.68" y="316.90" width="7.80" height="7.80" fill="#ff8000"/>
<rect x="706.40" y="320.07" width="7.80" height="7.80" fill="#ff8000"/>
<rect x="712.89" y="306.20" width="7.80" height="7.80" fill="#ff8000"/>
<rect x="719.16" y="310.26" width="7.80" height="7.80" fill="#ff8000"/>
<rect x="725.23" y="330.64" width="7.80" height="7.80" fill="#ff8000"/>
<rect x="731.10" y="333.47" width="7.80" height="7.80" fill="#ff8000"/>
<rect x="736.79" y="317.79" width="7.80" height="7.80" fill="#ff8000"/>
<rect x="742.31" y="322.47" width="7.80" height="7.80" fill="#ff8000"/>
<rect x="747.67" y="342.86" width="7.80" height="7.80" fill="#ff8000"/>
<rect x="752.88" y="345.25" width="7.80" height="7.80" fill="#ff8000"/>
<rect x="757.95" y="328.43" width="7.80" height="7.80" fill="#ff8000"/>
<rect x="762.88" y="333.68" width="7.80" height="7.80" fill="#ff8000"/>
<rect x="767.69" y="354.80" width="7.80" height="7.80" fill="#ff8000"/>
<rect x="772.37" y="357.06" width="7.80" height="7.80" fill="#ff8000"/>
<rect x="776.94" y="338.13" width="7.80" height="7.80" fill="#ff8000"/>
<rect x="781.40" y="343.65" width="7.80" height="7.80" fill="#ff8000"/>
<rect x="785.75" y="365.03" width="7.80" height="7.80" fill="#ff8000"/>
<rect x="790.00" y="368.00" width="7.80" height="7.80" fill="#ff8000"/>
<rect x="794.16" y="347.68" width="7.80" height="7.80" fill="#ff8000"/>
<rect x="798.22" y="353.78" width="7.80" height="7.80" fill="#ff8000"/>
<rect x="802.20" y="376.08" width="7.80" height="7.80" fill="#ff8000"/>
<rect x="806.09" y="378.75" width="7.80" height="7.80" fill="#ff8000"/>
<rect x="809.91" y="357.80" width="7.80" height="7.80" fill="#ff8000"/>
<rect x="813.64" y="363.39" width="7.80" height="7.80" fill="#ff8000"/>
<polyline fill="none" stroke="#800080" stroke-width="1.15" points="94.00,38.34 222.20,93.95 297.19,153.05 350.40,192.54 391.67,186.52 425.39,189.43 453.90,218.11 478.60,237.86 500.38,224.99 519.87,226.21 537.50,250.33 553.59,263.68 568.40,250.05 582.10,251.10 594.86,273.80 606.80,281.80 618.01,269.27 628.58,270.75 638.58,292.14 648.07,297.29 657.10,284.27 665.70,286.41 673.92,307.02 681.79,310.61 689.34,297.04 696.60,299.00 703.58,318.70 710.30,321.66 716.79,307.90 723.06,311.73 729.13,331.40 735.00,334.08 740.69,318.53 746.21,322.99 751.57,342.74 756.78,345.18 761.85,328.41 766.78,333.41 771.59,353.88 776.27,356.30 780.84,337.29 785.30,342.48 789.65,363.27 793.90,366.30 798.06,345.95 802.12,351.77 806.10,373.43 809.99,376.16 813.81,355.18 817.54,360.50"/>
<circle cx="94.00" cy="38.34" r="4.50" fill="#800080"/>
<circle cx="222.20" cy="93.95" r="4.50" fill="#800080"/>
<circle cx="297.19" cy="153.05" r="4.50" fill="#800080"/>
<circle cx="350.40" cy="192.54" r="4.50" fill="#800080"/>
<circle cx="391.67" cy="186.52" r="4.50" fill="#800080"/>
<circle cx="425.39" cy="189.43" r="4.50" fill="#800080"/>
<circle cx="453.90" cy="218.11" r="4.50" fill="#800080"/>
<circle cx="478.60" cy="237.86" r="4.50" fill="#800080"/>
<circle cx="500.38" cy="224.99" r="4.50" fill="#800080"/>
<circle cx="519.87" cy="226.21" r="4.50" fill="#800080"/>
<circle cx="537.50" cy="250.33" r="4.50" fill="#800080"/>
<circle cx="553.59" cy="263.68" r="4.50" fill="#800080"/>
<circle cx="568.40" cy="250.05" r="4.50" fill="#800080"/>
<circle cx="582.10" cy="251.10" r="4.50" fill="#800080"/>
<circle cx="594.86" cy="273.80" r="4.50" fill="#800080"/>
<circle cx="606.80" cy="281.80" r="4.50" fill="#800080"/>
<circle cx="618.01" cy="269.27" r="4.50" fill="#800080"/>
<circle cx="628.58" cy="270.75" r="4.50" fill="#800080"/>
<circle cx="638.58" cy="292.14" r="4.50" fill="#800080"/>
<circle cx="648.07" cy="297.29" r="4.50" fill="#800080"/>
<circle cx="657.10" cy="284.27" r="4.50" fill="#800080"/>
<circle cx="665.70" cy="286.41" r="4.50" fill="#800080"/>
<circle cx="673.92" cy="307.02" r="4.50" fill="#800080"/>
<circle cx="681.79" cy="310.61" r="4.50" fill="#800080"/>
<circle cx="689.34" cy="297.04" r="4.50" fill="#800080"/>
<circle cx="696.60" cy="299.00" r="4.50" fill="#800080"/>
<circle cx="703.58" cy="318.70" r="4.50" fill="#800080"/>
<circle cx="710.30" cy="321.66" r="4.50" fill="#800080"/>
<circle cx="716.79" cy="307.90" r="4.50" fill="#800080"/>
<circle cx="723.06" cy="311.73" r="4.50" fill="#800080"/>
<circle cx="729.13" cy="331.40" r="4.50" fill="#800080"/>
<circle cx="735.00" cy="334.08" r="4.50" fill="#800080"/>
<circle cx="740.69" cy="318.53" r="4.50" fill="#800080"/>
<circle cx="746.21" cy="322.99" r="4.50" fill="#800080"/>
<circle cx="751.57" cy="342.74" r="4.50" fill="#800080"/>
<circle cx="756.78" cy="345.18" r="4.50" fill="#800080"/>
<circle cx="761.85" cy="328.41" r="4.50" fill="#800080"/>
<circle cx="766.78" cy="333.41" r="4.50" fill="#800080"/>
<circle cx="771.59" cy="353.88" r="4.50" fill="#800080"/>
<circle cx="776.27" cy="356.30" r="4.50" fill="#800080"/>
<circle cx="780.84" cy="337.29" r="4.50" fill="#800080"/>
<circle cx="785.30" cy="342.48" r="4.50" fill="#800080"/>
<circle cx="789.65" cy="363.27" r="4.50" fill="#800080"/>
<circle cx="793.90" cy="366.30" r="4.50" fill="#800080"/>
<circle cx="798.06" cy="345.95" r="4.50" fill="#800080"/>
<circle cx="802.12" cy="351.77" r="4.50" fill="#800080"/>
<circle cx="806.10" cy="373.43" r="4.50" fill="#800080"/>
<circle cx="809.99" cy="376.16" r="4.50" fill="#800080"/>
<circle cx="813.81" cy="355.18" r="4.50" fill="#800080"/>
<circle cx="817.54" cy="360.50" r="4.50" fill="#800080"/>
<polyline fill="none" stroke="#8000ff" stroke-width="1.15" points="94.00,38.17 222.20,95.67 297.19,154.67 350.40,194.17 391.67,188.27 425.39,191.17 453.90,219.77 478.60,239.47 500.38,226.67 519.87,227.87 537.50,251.87 553.59,265.17 568.40,251.67 582.10,252.67 594.86,275.17 606.80,283.07 618.01,270.67 628.58,272.07 638.58,293.17 648.07,298.17 657.10,285.27 665.70,287.27 673.92,307.47 681.79,310.87 689.34,297.37 696.60,299.07 703.58,318.17 710.30,320.87 716.79,307.17 723.06,310.67 729.13,329.47 735.00,331.87 740.69,316.47 746.21,320.67 751.57,339.67 756.78,342.17 761.85,325.47 766.78,330.17 771.59,349.87 776.27,352.47 780.84,333.37 785.30,338.17 789.65,358.27 793.90,361.37 798.06,340.97 802.12,346.47 806.10,367.37 809.99,370.17 813.81,349.17 817.54,354.17"/>
<polygon points="94.00,31.50 99.80,41.50 88.20,41.50" fill="#8000ff"/>
<polygon points="222.20,89.00 228.00,99.00 216.40,99.00" fill="#8000ff"/>
<polygon points="297.19,148.00 302.99,158.00 291.39,158.00" fill="#8000ff"/>
<polygon points="350.40,187.50 356.20,197.50 344.60,197.50" fill="#8000ff"/>
<polygon points="391.67,181.60 397.47,191.60 385.87,191.60" fill="#8000ff"/>
<polygon points="425.39,184.50 431.19,194.50 419.59,194.50" fill="#8000ff"/>
<polygon points="453.90,213.10 459.70,223.10 448.10,223.10" fill="#8000ff"/>
<polygon points="478.60,232.80 484.40,242.80 472.80,242.80" fill="#8000ff"/>
<polygon points="500.38,220.00 506.18,230.00 494.58,230.00" fill="#8000ff"/>
<polygon points="519.87,221.20 525.67,231.20 514.07,231.20" fill="#8000ff"/>
<polygon points="537.50,245.20 543.30,255.20 531.70,255.20" fill="#8000ff"/>
<polygon points="553.59,258.50 559.39,268.50 547.79,268.50" fill="#8000ff"/>
<polygon points="568.40,245.00 574.20,255.00 562.60,255.00" fill="#8000ff"/>
<polygon points="582.10,246.00 587.90,256.00 576.30,256.00" fill="#8000ff"/>
<polygon points="594.86,268.50 600.66,278.50 589.06,278.50" fill="#8000ff"/>
<polygon points="606.80,276.40 612.60,286.40 601.00,286.40" fill="#8000ff"/>
<polygon points="618.01,264.00 623.81,274.00 612.21,274.00" fill="#8000ff"/>
<polygon points="628.58,265.40 634.38,275.40 622.78,275.40" fill="#8000ff"/>
<polygon points="638.58,286.50 644.38,296.50 632.78,296.50" fill="#8000ff"/>
<polygon points="648.07,291.50 653.87,301.50 642.27,301.50" fill="#8000ff"/>
<polygon points="657.10,278.60 662.90,288.60 651.30,288.60" fill="#8000ff"/>
<polygon points="665.70,280.60 671.50,290.60 659.90,290.60" fill="#8000ff"/>
<polygon points="673.92,300.80 679.72,310.80 668.12,310.80" fill="#8000ff"/>
<polygon points="681.79,304.20 687.59,314.20 675.99,314.20" fill="#8000ff"/>
<polygon points="689.34,290.70 695.14,300.70 683.54,300.70" fill="#8000ff"/>
<polygon points="696.60,292.40 702.40,302.40 690.80,302.40" fill="#8000ff"/>
<polygon points="703.58,311.50 709.38,321.50 697.78,321.50" fill="#8000ff"/>
<polygon points="710.30,314.20 716.10,324.20 704.50,324.20" fill="#8000ff"/>
<polygon points="716.79,300.50 722.59,310.50 710.99,310.50" fill="#8000ff"/>
<polygon points="723.06,304.00 728.86,314.00 717.26,314.00" fill="#8000ff"/>
<polygon points="729.13,322.80 734.93,332.80 723.33,332.80" fill="#8000ff"/>
<polygon points="735.00,325.20 740.80,335.20 729.20,335.20" fill="#8000ff"/>
<polygon points="740.69,309.80 746.49,319.80 734.89,319.80" fill="#8000ff"/>
<polygon points="746.21,314.00 752.01,324.00 740.41,324.00" fill="#8000ff"/>
<polygon points="751.57,333.00 757.37,343.00 745.77,343.00" fill="#8000ff"/>
<polygon points="756.78,335.50 762.58,345.50 750.98,345.50" fill="#8000ff"/>
<polygon points="761.85,318.80 767.65,328.80 756.05,328.80" fill="#8000ff"/>
<polygon points="766.78,323.50 772.58,333.50 760.98,333.50" fill="#8000ff"/>
<polygon points="771.59,343.20 777.39,353.20 765.79,353.20" fill="#8000ff"/>
<polygon points="776.27,345.80 782.07,355.80 770.47,355.80" fill="#8000ff"/>
<polygon points="780.84,326.70 786.64,336.70 775.04,336.70" fill="#8000ff"/>
<polygon points="785.30,331.50 791.10,341.50 779.50,341.50" fill="#8000ff"/>
<polygon points="789.65,351.60 795.45,361.60 783.85,361.60" fill="#8000ff"/>
<polygon points="793.90,354.70 799.70,364.70 788.10,364.70" fill="#8000ff"/>
<polygon points="798.06,334.30 803.86,344.30 792.26,344.30" fill="#8000ff"/>
<polygon points="802.12,339.80 807.92,349.80 796.32,349.80" fill="#8000ff"/>
<polygon points="806.10,360.70 811.90,370.70 800.30,370.70" fill="#8000ff"/>
<polygon points="809.99,363.50 815.79,373.50 804.19,373.50" fill="#8000ff"/>
<polygon points="813.81,342.50 819.61,352.50 808.01,352.50" fill="#8000ff"/>
<polygon points="817.54,347.50 823.34,357.50 811.74,357.50" fill="#8000ff"/>
<line x1="94.00" y1="59.6" x2="817.90" y2="358.3" stroke="#ff0000" stroke-width="1"/>
</g>
<rect x="94.00" y="20.00" width="723.90" height="441.00" fill="none" stroke="#000" stroke-width="1.40"/>
<text transform="translate(70.20,32.80) scale(0.906,1)" font-size="30.9" text-anchor="end">10</text>
<text transform="translate(70.60,16.00) scale(0.950,1)" font-size="17.3" text-anchor="start">-2</text>
<text transform="translate(70.20,165.40) scale(0.906,1)" font-size="30.9" text-anchor="end">10</text>
<text transform="translate(70.60,148.60) scale(0.950,1)" font-size="17.3" text-anchor="start">-3</text>
<text transform="translate(70.20,299.00) scale(0.906,1)" font-size="30.9" text-anchor="end">10</text>
<text transform="translate(70.60,282.20) scale(0.950,1)" font-size="17.3" text-anchor="start">-4</text>
<text transform="translate(70.20,432.60) scale(0.906,1)" font-size="30.9" text-anchor="end">10</text>
<text transform="translate(70.60,415.80) scale(0.950,1)" font-size="17.3" text-anchor="start">-5</text>
<text transform="translate(94.00,491.60) scale(0.942,1)" font-size="30.9" text-anchor="middle">1</text>
<text transform="translate(222.20,491.60) scale(0.942,1)" font-size="30.9" text-anchor="middle">2</text>
<text transform="translate(350.40,491.60) scale(0.942,1)" font-size="30.9" text-anchor="middle">4</text>
<text transform="translate(479.10,491.60) scale(0.942,1)" font-size="30.9" text-anchor="middle">8</text>
<text transform="translate(606.80,491.60) scale(0.942,1)" font-size="30.9" text-anchor="middle">16</text>
<text transform="translate(735.00,491.60) scale(0.942,1)" font-size="30.9" text-anchor="middle">32</text>
<text x="451.5" y="498" font-size="34">r</text>
<g transform="translate(27.6,263) rotate(-90)"><text font-size="34" x="0" y="0"><tspan font-family='"Liberation Serif", serif' font-size="32">Φ</tspan><tspan font-size="20" dy="12">yy</tspan><tspan dy="-12">(r)</tspan></text></g>
<text transform="translate(119,426.8) scale(0.903,1)" font-size="31">(a) <tspan font-style="italic" dx="2.6">L</tspan><tspan font-size="17.5" dy="10.5">x</tspan><tspan dy="-10.5" dx="1.2">=96, </tspan><tspan font-family='"Liberation Serif", serif' font-size="32">δ</tspan>=12.5%</text>
<rect x="455" y="27" width="350" height="163" fill="#fff"/>
<line x1="460.30" y1="44.40" x2="519.00" y2="44.40" stroke="#000000" stroke-width="1"/>
<rect x="484.51" y="39.21" width="10.37" height="10.37" fill="#000000"/>
<text x="526.30" y="53.70" font-size="26.0">m=2187</text>
<line x1="636.00" y1="44.40" x2="696.00" y2="44.40" stroke="#ff0000" stroke-width="1"/>
<circle cx="666.00" cy="44.40" r="5.99" fill="#ff0000"/>
<text x="702.50" y="53.70" font-size="26.0">m=2700</text>
<line x1="460.30" y1="76.80" x2="519.00" y2="76.80" stroke="#0000ff" stroke-width="1"/>
<polygon points="489.70,67.93 497.41,81.23 481.99,81.23" fill="#0000ff"/>
<text x="526.30" y="86.10" font-size="26.0">m=3200</text>
<line x1="636.00" y1="76.80" x2="696.00" y2="76.80" stroke="#008080" stroke-width="1"/>
<polygon points="666.00,85.67 673.71,72.37 658.29,72.37" fill="#008080"/>
<text x="702.50" y="86.10" font-size="26.0">m=3800</text>
<line x1="460.30" y1="109.20" x2="519.00" y2="109.20" stroke="#ff00ff" stroke-width="1"/>
<polygon points="480.83,109.20 494.13,101.49 494.13,116.91" fill="#ff00ff"/>
<text x="526.30" y="118.50" font-size="26.0">m=4500</text>
<line x1="636.00" y1="109.20" x2="696.00" y2="109.20" stroke="#808000" stroke-width="1"/>
<polygon points="674.87,109.20 661.57,101.49 661.57,116.91" fill="#808000"/>
<text x="702.50" y="118.50" font-size="26.0">m=5200</text>
<line x1="460.30" y1="141.60" x2="519.00" y2="141.60" stroke="#000080" stroke-width="1"/>
<polygon points="489.70,134.15 497.15,141.60 489.70,149.05 482.25,141.60" fill="#000080"/>
<text x="526.30" y="150.90" font-size="26.0">m=6000</text>
<line x1="636.00" y1="141.60" x2="696.00" y2="141.60" stroke="#800000" stroke-width="1"/>
<polygon points="666.00,134.15 673.08,139.30 670.38,147.63 661.62,147.63 658.92,139.30" fill="#800000"/>
<text x="702.50" y="150.90" font-size="26.0">m=7200</text>
<line x1="460.30" y1="174.00" x2="519.00" y2="174.00" stroke="#ff0080" stroke-width="1"/>
<polygon points="489.70,167.35 495.46,170.68 495.46,177.32 489.70,180.65 483.94,177.33 483.94,170.68" fill="#ff0080"/>
<text x="526.30" y="183.30" font-size="26.0">m=8000</text>
<line x1="636.00" y1="174.00" x2="696.00" y2="174.00" stroke="#008000" stroke-width="1"/>
<polygon points="666.00,166.02 667.92,171.36 673.59,171.53 669.10,175.01 670.69,180.46 666.00,177.26 661.31,180.46 662.90,175.01 658.41,171.53 664.08,171.36" fill="#008000"/>
<text x="702.50" y="183.30" font-size="26.0">m=8500</text>
<line x1="146.40" y1="223.10" x2="205.50" y2="223.10" stroke="#0000a0" stroke-width="1"/>
<circle cx="175.30" cy="223.10" r="6.12" fill="url(#sph)"/>
<text x="212.80" y="232.40" font-size="26.0">m=10000</text>
<line x1="146.40" y1="255.40" x2="205.50" y2="255.40" stroke="#ff8000" stroke-width="1"/>
<rect x="170.11" y="250.21" width="10.37" height="10.37" fill="#ff8000"/>
<text x="212.80" y="264.70" font-size="26.0">m=12000</text>
<line x1="146.40" y1="287.80" x2="205.50" y2="287.80" stroke="#800080" stroke-width="1"/>
<circle cx="175.30" cy="287.80" r="5.99" fill="#800080"/>
<text x="212.80" y="297.10" font-size="26.0">m=15000</text>
<line x1="146.40" y1="320.20" x2="205.50" y2="320.20" stroke="#8000ff" stroke-width="1"/>
<polygon points="175.30,311.33 183.01,324.63 167.59,324.63" fill="#8000ff"/>
<text x="212.80" y="329.50" font-size="26.0">m=<tspan font-size="25" dy="1">∞</tspan></text>
<g clip-path="url(#cb)">
<polyline fill="none" stroke="#000000" stroke-width="1" points="115.30,570.20 251.30,636.40 347.80,683.20 483.80,745.40 580.30,790.40 655.15,820.50 716.30,845.90 812.80,887.20"/>
<rect x="110.11" y="565.01" width="10.37" height="10.37" fill="#000000"/>
<rect x="246.12" y="631.21" width="10.37" height="10.37" fill="#000000"/>
<rect x="342.61" y="678.01" width="10.37" height="10.37" fill="#000000"/>
<rect x="478.62" y="740.21" width="10.37" height="10.37" fill="#000000"/>
<rect x="575.11" y="785.21" width="10.37" height="10.37" fill="#000000"/>
<rect x="649.96" y="815.31" width="10.37" height="10.37" fill="#000000"/>
<rect x="711.12" y="840.71" width="10.37" height="10.37" fill="#000000"/>
<rect x="807.61" y="882.01" width="10.37" height="10.37" fill="#000000"/>
<polyline fill="none" stroke="#ff0000" stroke-width="1" points="115.30,568.00 251.30,631.60 347.80,682.50 483.80,745.40 580.30,790.60 655.15,829.90 716.30,868.10 812.80,950.40"/>
<circle cx="115.30" cy="568.00" r="5.80" fill="#ff0000"/>
<circle cx="251.30" cy="631.60" r="5.80" fill="#ff0000"/>
<circle cx="347.80" cy="682.50" r="5.80" fill="#ff0000"/>
<circle cx="483.80" cy="745.40" r="5.80" fill="#ff0000"/>
<circle cx="580.30" cy="790.60" r="5.80" fill="#ff0000"/>
<circle cx="655.15" cy="829.90" r="5.80" fill="#ff0000"/>
<circle cx="716.30" cy="868.10" r="5.80" fill="#ff0000"/>
<circle cx="812.80" cy="950.40" r="5.80" fill="#ff0000"/>
<polyline fill="none" stroke="#0000ff" stroke-width="1" points="115.30,571.20 251.30,637.20 347.80,683.50 483.80,745.40 580.30,790.40 655.15,823.70 716.30,847.80 812.80,890.10"/>
<polygon points="115.30,563.20 122.26,575.20 108.34,575.20" fill="#0000ff"/>
<polygon points="251.30,629.20 258.26,641.20 244.34,641.20" fill="#0000ff"/>
<polygon points="347.80,675.50 354.76,687.50 340.84,687.50" fill="#0000ff"/>
<polygon points="483.80,737.40 490.76,749.40 476.84,749.40" fill="#0000ff"/>
<polygon points="580.30,782.40 587.26,794.40 573.34,794.40" fill="#0000ff"/>
<polygon points="655.15,815.70 662.11,827.70 648.19,827.70" fill="#0000ff"/>
<polygon points="716.30,839.80 723.26,851.80 709.34,851.80" fill="#0000ff"/>
<polygon points="812.80,882.10 819.76,894.10 805.84,894.10" fill="#0000ff"/>
</g>
<rect x="94.00" y="536.80" width="723.90" height="441.60" fill="none" stroke="#000" stroke-width="1.40"/>
<line x1="94.00" y1="679.00" x2="104.00" y2="679.00" stroke="#000" stroke-width="1.40"/>
<line x1="807.90" y1="679.00" x2="817.90" y2="679.00" stroke="#000" stroke-width="1.40"/>
<line x1="94.00" y1="589.29" x2="99.60" y2="589.29" stroke="#000" stroke-width="1.40"/>
<line x1="812.30" y1="589.29" x2="817.90" y2="589.29" stroke="#000" stroke-width="1.40"/>
<line x1="94.00" y1="692.70" x2="99.60" y2="692.70" stroke="#000" stroke-width="1.40"/>
<line x1="812.30" y1="692.70" x2="817.90" y2="692.70" stroke="#000" stroke-width="1.40"/>
<line x1="94.00" y1="708.02" x2="99.60" y2="708.02" stroke="#000" stroke-width="1.40"/>
<line x1="812.30" y1="708.02" x2="817.90" y2="708.02" stroke="#000" stroke-width="1.40"/>
<line x1="94.00" y1="725.39" x2="99.60" y2="725.39" stroke="#000" stroke-width="1.40"/>
<line x1="812.30" y1="725.39" x2="817.90" y2="725.39" stroke="#000" stroke-width="1.40"/>
<line x1="94.00" y1="745.44" x2="99.60" y2="745.44" stroke="#000" stroke-width="1.40"/>
<line x1="812.30" y1="745.44" x2="817.90" y2="745.44" stroke="#000" stroke-width="1.40"/>
<line x1="94.00" y1="769.16" x2="99.60" y2="769.16" stroke="#000" stroke-width="1.40"/>
<line x1="812.30" y1="769.16" x2="817.90" y2="769.16" stroke="#000" stroke-width="1.40"/>
<line x1="94.00" y1="798.18" x2="99.60" y2="798.18" stroke="#000" stroke-width="1.40"/>
<line x1="812.30" y1="798.18" x2="817.90" y2="798.18" stroke="#000" stroke-width="1.40"/>
<line x1="94.00" y1="835.60" x2="99.60" y2="835.60" stroke="#000" stroke-width="1.40"/>
<line x1="812.30" y1="835.60" x2="817.90" y2="835.60" stroke="#000" stroke-width="1.40"/>
<line x1="94.00" y1="888.34" x2="99.60" y2="888.34" stroke="#000" stroke-width="1.40"/>
<line x1="812.30" y1="888.34" x2="817.90" y2="888.34" stroke="#000" stroke-width="1.40"/>
<line x1="115.30" y1="968.40" x2="115.30" y2="978.40" stroke="#000" stroke-width="1.40"/>
<line x1="347.80" y1="968.40" x2="347.80" y2="978.40" stroke="#000" stroke-width="1.40"/>
<line x1="483.80" y1="968.40" x2="483.80" y2="978.40" stroke="#000" stroke-width="1.40"/>
<line x1="580.30" y1="968.40" x2="580.30" y2="978.40" stroke="#000" stroke-width="1.40"/>
<line x1="655.15" y1="968.40" x2="655.15" y2="978.40" stroke="#000" stroke-width="1.40"/>
<line x1="716.30" y1="968.40" x2="716.30" y2="978.40" stroke="#000" stroke-width="1.40"/>
<line x1="768.01" y1="968.40" x2="768.01" y2="978.40" stroke="#000" stroke-width="1.40"/>
<line x1="812.80" y1="968.40" x2="812.80" y2="978.40" stroke="#000" stroke-width="1.40"/>
<line x1="251.30" y1="972.80" x2="251.30" y2="978.40" stroke="#000" stroke-width="1.40"/>
<line x1="422.65" y1="972.80" x2="422.65" y2="978.40" stroke="#000" stroke-width="1.40"/>
<line x1="535.51" y1="972.80" x2="535.51" y2="978.40" stroke="#000" stroke-width="1.40"/>
<line x1="619.81" y1="972.80" x2="619.81" y2="978.40" stroke="#000" stroke-width="1.40"/>
<line x1="687.12" y1="972.80" x2="687.12" y2="978.40" stroke="#000" stroke-width="1.40"/>
<line x1="743.15" y1="972.80" x2="743.15" y2="978.40" stroke="#000" stroke-width="1.40"/>
<line x1="791.15" y1="972.80" x2="791.15" y2="978.40" stroke="#000" stroke-width="1.40"/>
<text transform="translate(73.00,690.80) scale(0.906,1)" font-size="30.9" text-anchor="end">10</text>
<text transform="translate(73.40,674.00) scale(0.950,1)" font-size="17.3" text-anchor="start">-4</text>
<text transform="translate(73.00,990.30) scale(0.906,1)" font-size="30.9" text-anchor="end">10</text>
<text transform="translate(73.40,973.50) scale(0.950,1)" font-size="17.3" text-anchor="start">-5</text>
<text transform="translate(115.30,1004.00) scale(0.942,1)" font-size="30.9" text-anchor="middle">8</text>
<text transform="translate(347.80,1004.00) scale(0.942,1)" font-size="30.9" text-anchor="middle">16</text>
<text transform="translate(483.80,1004.00) scale(0.942,1)" font-size="30.9" text-anchor="middle">24</text>
<text transform="translate(580.30,1004.00) scale(0.942,1)" font-size="30.9" text-anchor="middle">32</text>
<text transform="translate(655.15,1004.00) scale(0.942,1)" font-size="30.9" text-anchor="middle">40</text>
<text transform="translate(716.30,1004.00) scale(0.942,1)" font-size="30.9" text-anchor="middle">48</text>
<text transform="translate(768.01,1004.00) scale(0.942,1)" font-size="30.9" text-anchor="middle">56</text>
<text transform="translate(812.80,1004.00) scale(0.942,1)" font-size="30.9" text-anchor="middle">64</text>
<text transform="translate(387.6,1026.6) scale(0.93,1)" font-size="36.5"><tspan font-style="italic">L</tspan><tspan font-size="21" dy="12.6">x</tspan><tspan dy="-12.6" dx="-1.5">/2</tspan></text>
<g transform="translate(30.2,841) rotate(-90)"><text font-size="34" x="0" y="0"><tspan font-family='"Liberation Serif", serif' font-size="32">Φ</tspan><tspan font-size="20" dy="12">yy</tspan><tspan dy="-12">(</tspan><tspan font-style="italic">L</tspan><tspan font-size="20" dy="12">x</tspan><tspan dy="-12" letter-spacing="1.4">/2)</tspan></text></g>
<text x="119.0" y="939.6" font-size="28">(b)</text>
<line x1="530.10" y1="589.30" x2="594.10" y2="589.30" stroke="#000000" stroke-width="1"/>
<rect x="554.89" y="581.89" width="14.82" height="14.82" fill="#000000"/>
<text x="603.00" y="598.30" font-size="28.6">Poly4</text>
<line x1="530.10" y1="624.20" x2="594.10" y2="624.20" stroke="#ff0000" stroke-width="1"/>
<circle cx="562.30" cy="624.20" r="8.33" fill="#ff0000"/>
<text x="603.00" y="633.20" font-size="28.6">Poly2-small</text>
<line x1="530.10" y1="659.20" x2="594.10" y2="659.20" stroke="#0000ff" stroke-width="1"/>
<polygon points="562.30,647.87 572.16,664.87 552.44,664.87" fill="#0000ff"/>
<text x="603.00" y="668.20" font-size="28.6">Poly2-large</text>
</svg></body></html>
